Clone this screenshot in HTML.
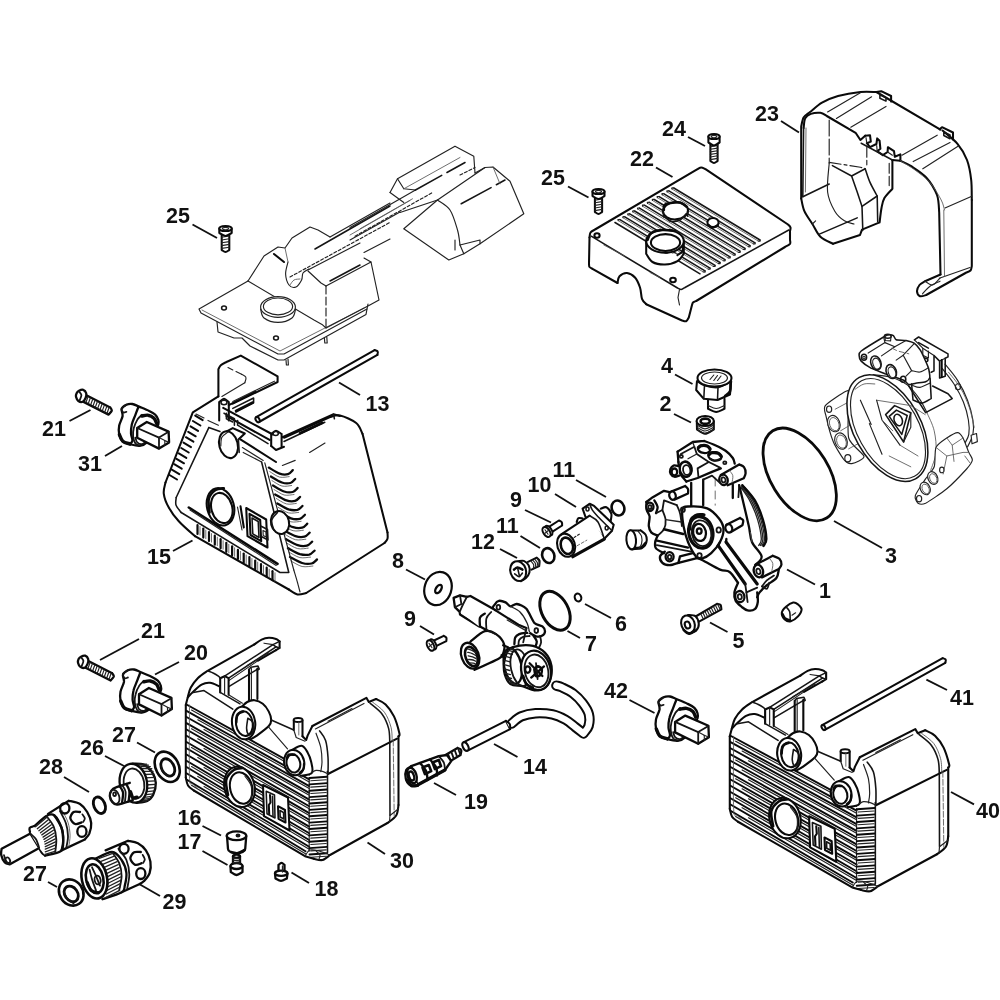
<!DOCTYPE html>
<html><head><meta charset="utf-8">
<style>
html,body{margin:0;padding:0;background:#fff;}
body{width:1000px;height:1000px;overflow:hidden;font-family:"Liberation Sans",sans-serif;}
svg{display:block;filter:blur(0.35px)}
.k{fill:none;stroke:#0a0a0a;stroke-width:2.05;stroke-linecap:round;stroke-linejoin:round}
.m{fill:none;stroke:#151515;stroke-width:1.55;stroke-linecap:round;stroke-linejoin:round}
.t{fill:none;stroke:#222;stroke-width:1.15;stroke-linecap:round;stroke-linejoin:round}
.g{fill:none;stroke:#222;stroke-width:1.15;stroke-linecap:round;stroke-linejoin:round}
.h{fill:none;stroke:#555;stroke-width:0.85;stroke-linecap:round;stroke-linejoin:round}
#pump1 .k,#feet .k,#conn .k,#valve .k{stroke-width:2.3}
#pump1 .m,#feet .m,#conn .m,#valve .m{stroke-width:1.8}
#pump1 .t,#conn .t,#valve .t{stroke-width:1.3}
.w{fill:#fff}
.b{fill:#111;stroke:none}
.ld{stroke:#111;stroke-width:1.9;stroke-linecap:butt;fill:none}
text{font-family:"Liberation Sans",sans-serif;font-weight:bold;font-size:21.5px;fill:#111}
</style></head><body>
<svg width="1000" height="1000" viewBox="0 0 1000 1000">
<rect width="1000" height="1000" fill="#fff"/>
<g id="ghost">
<path class="g" d="M248 281 L199 309 L201 313 L278 354 L284 354 L367 309 L368 304"/>
<path class="g" d="M217 322 L218 332 L234 338 L242 338 L250 346 L278 360 L284 360 L366 314.4 L367 309"/>
<path class="g" d="M286 360 L286.4 365 L288.4 365 L288 359"/>
<path class="g" d="M324.4 338 L324.8 343 L327.2 343 L326.8 337"/>
<path class="h" d="M202 310 L280 351 L364 308"/>
<path class="g" d="M248 281 L264 256 L278 247 L285 248 L292 238 L310 227 L318 230 L330 237"/>
<path class="g" d="M248 281 L314 320 L322 324.4 L326 328"/>
<path class="g" d="M326 286 L326 328" stroke-dasharray="8 3"/>
<path class="g" d="M326 328 L368 306 L379 300 L371 262 L326 286"/>
<path class="g" d="M371 262 L364 258"/>
<path class="g" d="M326 286 L321 283 L308 271"/>
<path class="g" d="M288 262 C287.6 264 285.4 270.2 285.6 274 C285.8 277.8 287.3 282.8 289 285 C290.7 287.2 293.9 287.8 296 287 C298.1 286.2 300.4 282.3 301.6 280 C302.8 277.7 301.8 274.8 303 273 C304.2 271.2 308 269.7 309 269"/>
<path class="h" d="M290 285 C290.7 284.2 292.3 281 294 280 C295.7 279 299 279.2 300 279"/>
<path class="k" d="M274 254 L284 262"/>
<path class="h" d="M285 248 L288 262"/>
<path class="m" d="M315 249 L390 206"/>
<path class="g" d="M330 237 L390 203"/>
<path class="g" d="M290 277 L390 222.4" stroke-dasharray="3 2"/>
<path class="g" d="M308 270 L360 243"/>
<path class="g" d="M364 252.4 L390 239"/>
<path class="m" d="M330 281 L360 265"/>
<ellipse class="g w" cx="278" cy="307" rx="17.4" ry="10.4"/>
<ellipse class="g" cx="278" cy="306.4" rx="14.6" ry="8.4"/>
<path class="g" d="M260.6 309 C261.2 310.5 261.1 315.8 264 318 C266.9 320.2 273.3 322.4 278 322.4 C282.7 322.4 289.1 320.2 292 318 C294.9 315.8 295 310.5 295.6 309"/>
<ellipse class="m" cx="224" cy="308" rx="2.4" ry="2"/>
<ellipse class="m" cx="276" cy="338" rx="2.4" ry="2"/>
<path class="g" d="M350 227.5 L415.5 190"/>
<path class="g" d="M350 240 L400 212"/>
<path class="h" d="M360 228.8 L412.5 198.8"/>
<path class="h" d="M350 235 L410 200.5"/>
<path class="g" d="M355 236.2 L432.5 192.5" stroke-dasharray="3 2"/>
<path class="g" d="M400 212.5 L437.5 200"/>
<path class="g" d="M390 192.5 L397.5 178.8 L455 146.2 L473.8 156.2 L475 173"/>
<path class="g" d="M397.5 178.8 L403.8 188.8 L415.5 190"/>
<path class="h" d="M403.8 188.8 L460 157.5"/>
<path class="g" d="M390 192.5 L403.8 202.5"/>
<path class="m" d="M415.5 190 L465 162.5" stroke-dasharray="30 6"/>
<path class="g" d="M475 173 L485 167.5"/>
<path class="g" d="M460 175 L475 167.5" stroke-dasharray="3 2"/>
<path class="g" d="M403.8 228.8 L437.5 200 L485 167.5 L493 167 L510 181.2 L523.8 213.8 L480 243.8 L463.8 253.8 L448.8 260 L403.8 228.8"/>
<path class="g" d="M437.5 200 C439.6 201.7 446.7 205 450 210 C453.3 215 455.8 224.2 457.5 230 C459.2 235.8 459.6 242.5 460 245"/>
<path class="g" d="M460 245 L463.8 253.8"/>
<path class="g" d="M460 245 L480 240 L480 243.8"/>
<path class="g" d="M455 240 L455 250"/>
<path class="m" d="M461.2 203.8 L505 180" stroke-dasharray="34 6"/>
<path class="h" d="M493 167 L500 183.8"/>
</g>
<g id="p15">
<path class="w" d="M192.8 412.4 L218.4 396.4 L218.4 369.2 L223.2 363.6 L240.8 355.6 L277.6 376.4 L277.6 382 L244 399.6 L272.8 432.4 L282.4 437.2 L330 417 L338.8 415.5 L355 422.5 L362.5 432.5 L387.5 533.8 L385 542.5 L305 593.8 L290 590 L195 536.2 L177.5 520 L167.5 502.5 L165 485Z"/>
<path class="k" d="M218.4 396.4 L192.8 412.4 L165.5 482.5"/>
<path class="k" d="M165.5 482.5 C165.2 484.4 163.2 489.6 163.8 493.8 C164.3 497.9 166.2 502.9 168.8 507.5 C171.2 512.1 174.4 516.5 178.8 521.2 C183.1 526 192.3 533.8 195 536.2"/>
<path class="k" d="M195 536.2 L288.8 589.5"/>
<path class="k" d="M288.8 589.5 C290.2 590.3 294.6 593.9 297.5 594.5 C300.4 595.1 304.8 593.2 306.2 593"/>
<path class="k" d="M306.2 593 L384.5 543"/>
<path class="k" d="M384.5 543 C385 542.3 387 540.5 387.5 538.8 C388 537 387.5 533.5 387.5 532.5"/>
<path class="k" d="M387.5 532.5 L362.5 433.8"/>
<path class="k" d="M362.5 433.8 C361.5 432 360 426 356.2 423 C352.5 420 344.4 416.5 340 415.5 C335.6 414.5 331.7 416.8 330 417"/>
<path class="k" d="M330 417 L284 437.7"/>
<path class="k" d="M218.4 396.4 L218.4 369.2 M218.4 369.2 C218.8 368.5 219.5 366.4 220.8 365.2 C222.1 364 225.5 362.5 226.4 362 M226.4 362 L240.8 355.6 L277.6 376.4 L277.6 382 L232.8 403.6"/>
<path class="t" d="M274.4 381.2 L232.8 401.5"/>
<path class="t" d="M236 371.6 L241.6 374.3"/>
<path class="t" d="M241.6 374.3 C242.3 374.8 245.4 375.8 245.9 377.2 C246.5 378.6 245 381.9 244.8 382.8"/>
<path class="t" d="M244.8 382.8 L221.9 396.4"/>
<path class="t" d="M228 367.6 L232.8 370"/>
<path class="t" d="M196 414 L204 418"/>
<path class="t" d="M208 420.4 L218.4 425.2"/>
<path class="m" d="M208.8 427.6 L220 431.6"/>
<path class="k w" d="M219.2 420.4 L219.2 402 M219.2 402 C220 401.5 222.4 398.8 224 398.8 C225.6 398.8 228 401.5 228.8 402 M228.8 402 L228.8 420.4"/>
<ellipse class="m" cx="224" cy="402.5" rx="3" ry="2.2"/>
<path class="k" d="M223.2 407.9 L272.8 434.5"/>
<path class="k" d="M226.4 415.9 L269.6 439.9"/>
<path class="m" d="M224 413.2 L234.4 418.8 L234.4 425.2"/>
<path class="m" d="M226.4 413.2 L226.4 418.8 L232.8 422"/>
<path class="m" d="M237.6 420.4 L237.6 425.2 L268 443.6"/>
<path class="k" d="M228.8 405.2 L255.2 391.9"/>
<path class="m" d="M232.8 408.4 L253.6 398 L253.6 402.8 L236 412.1"/>
<path class="k" d="M236 410.8 L252.8 402.5" style="stroke-width:2.6"/>
<path class="k w" d="M271.2 446 L271.2 434 M271.2 434 C272 433.5 274.3 430.8 276 430.8 C277.7 430.8 280.7 433.5 281.6 434 M281.6 434 L281.6 446.8"/>
<ellipse class="m" cx="275.7" cy="433.5" rx="2.6" ry="2"/>
<path class="k" d="M282.4 437.2 L333.6 414.3 L340 415.9"/>
<path class="m" d="M284 441.5 L324.8 422.3"/>
<path class="k" d="M300 433.2 L322.4 422.8" style="stroke-width:2.6"/>
<path class="m" d="M333.6 414.3 L334.4 418.8"/>
<path class="k" d="M271.2 446 L276 450 L284 446.8"/>
<path class="t" d="M309.6 452.4 L325 443"/>
<path class="t" d="M282.4 465.5 L295.2 460.4"/>
<path class="k" d="M240.8 439.6 L276 462"/>
<path class="t" d="M242.4 447.6 L263.2 460.4"/>
<path class="m" d="M208.8 427.6 L176.2 497.5"/>
<path class="m" d="M176.2 497.5 C176.2 498.8 175.2 502.5 176 505 C176.8 507.5 180.4 511.2 181.2 512.5"/>
<path class="m" d="M181.2 512.5 L280 572.5 L288.8 572.5 L261.6 462"/>
<path class="t" d="M261.6 462 L243.2 452.4"/>
<path class="k" d="M195.2 415.6 L202.7 420.1" style="stroke-width:2"/>
<path class="k" d="M192.9 421 L200.4 425.5" style="stroke-width:2"/>
<path class="k" d="M190.5 426.4 L198 430.9" style="stroke-width:2"/>
<path class="k" d="M188.2 431.8 L195.7 436.3" style="stroke-width:2"/>
<path class="k" d="M185.9 437.2 L193.4 441.7" style="stroke-width:2"/>
<path class="k" d="M183.5 442.6 L191 447.1" style="stroke-width:2"/>
<path class="k" d="M181.2 448 L188.7 452.5" style="stroke-width:2"/>
<path class="k" d="M178.8 453.4 L186.3 457.9" style="stroke-width:2"/>
<path class="k" d="M176.5 458.8 L184 463.3" style="stroke-width:2"/>
<path class="k" d="M174.2 464.2 L181.7 468.7" style="stroke-width:2"/>
<path class="k" d="M171.8 469.6 L179.3 474.1" style="stroke-width:2"/>
<path class="k" d="M169.5 475 L177 479.5" style="stroke-width:2"/>
<path class="k" d="M197.5 525 L197.5 534" style="stroke-width:2.2"/>
<path class="h" d="M200 526.5 L200 535"/>
<path class="k" d="M203.3 528.6 L203.3 537.6" style="stroke-width:2.2"/>
<path class="h" d="M205.8 530.1 L205.8 538.6"/>
<path class="k" d="M209 532.1 L209 541.1" style="stroke-width:2.2"/>
<path class="h" d="M211.5 533.6 L211.5 542.1"/>
<path class="k" d="M214.8 535.7 L214.8 544.7" style="stroke-width:2.2"/>
<path class="h" d="M217.3 537.2 L217.3 545.7"/>
<path class="k" d="M220.6 539.2 L220.6 548.2" style="stroke-width:2.2"/>
<path class="h" d="M223.1 540.7 L223.1 549.2"/>
<path class="k" d="M226.3 542.8 L226.3 551.8" style="stroke-width:2.2"/>
<path class="h" d="M228.8 544.3 L228.8 552.8"/>
<path class="k" d="M232.1 546.3 L232.1 555.3" style="stroke-width:2.2"/>
<path class="h" d="M234.6 547.8 L234.6 556.3"/>
<path class="k" d="M237.9 549.9 L237.9 558.9" style="stroke-width:2.2"/>
<path class="h" d="M240.4 551.4 L240.4 559.9"/>
<path class="k" d="M243.7 553.5 L243.7 562.5" style="stroke-width:2.2"/>
<path class="h" d="M246.2 555 L246.2 563.5"/>
<path class="k" d="M249.4 557 L249.4 566" style="stroke-width:2.2"/>
<path class="h" d="M251.9 558.5 L251.9 567"/>
<path class="k" d="M255.2 560.6 L255.2 569.6" style="stroke-width:2.2"/>
<path class="h" d="M257.7 562.1 L257.7 570.6"/>
<path class="k" d="M261 564.1 L261 573.1" style="stroke-width:2.2"/>
<path class="h" d="M263.5 565.6 L263.5 574.1"/>
<path class="k" d="M266.7 567.7 L266.7 576.7" style="stroke-width:2.2"/>
<path class="h" d="M269.2 569.2 L269.2 577.7"/>
<path class="k" d="M272.5 571.2 L272.5 580.2" style="stroke-width:2.2"/>
<path class="h" d="M275 572.8 L275 581.2"/>
<path class="k" d="M188.8 507.5 L277.5 563.8" style="stroke-width:2.6"/>
<path class="t" d="M190 510 L276.2 565.5"/>
<path class="k" d="M268.8 467.6 C270.6 468.6 276.4 472.5 279.6 473.6 C282.8 474.7 285.8 474.7 288 474.1 C290.2 473.5 292 470.8 292.8 470.1" style="stroke-width:2.3"/>
<path class="h" d="M269.8 471.6 C271.4 472.5 276.4 476.3 279.6 477.1 C282.8 477.9 287.6 476.7 289.2 476.6"/>
<path class="k" d="M270.9 476.5 C272.7 477.5 278.6 481.5 281.9 482.5 C285.1 483.6 288.1 483.6 290.4 483 C292.6 482.5 294.4 479.7 295.2 479" style="stroke-width:2.3"/>
<path class="h" d="M271.9 480.5 C273.6 481.5 278.6 485.2 281.9 486 C285.1 486.9 290 485.6 291.6 485.5"/>
<path class="k" d="M273 485.5 C274.9 486.5 280.8 490.4 284.1 491.5 C287.4 492.6 290.5 492.6 292.7 492 C295 491.4 296.8 488.6 297.6 488" style="stroke-width:2.3"/>
<path class="h" d="M274 489.5 C275.7 490.4 280.8 494.1 284.1 495 C287.4 495.8 292.3 494.6 294 494.5"/>
<path class="k" d="M275.2 494.4 C277 495.4 283 499.3 286.4 500.4 C289.7 501.5 292.8 501.5 295.1 500.9 C297.4 500.3 299.2 497.6 300.1 496.9" style="stroke-width:2.3"/>
<path class="h" d="M276.2 498.4 C277.9 499.3 283 503.1 286.4 503.9 C289.7 504.8 294.7 503.5 296.3 503.4"/>
<path class="k" d="M277.3 503.4 C279.2 504.4 285.3 508.3 288.6 509.4 C292 510.4 295.1 510.4 297.4 509.9 C299.8 509.3 301.6 506.5 302.5 505.9" style="stroke-width:2.3"/>
<path class="h" d="M278.3 507.4 C280 508.3 285.2 512 288.6 512.9 C292 513.7 297 512.4 298.7 512.4"/>
<path class="k" d="M279.4 512.3 C281.3 513.3 287.5 517.2 290.9 518.3 C294.3 519.4 297.5 519.4 299.8 518.8 C302.1 518.2 304 515.5 304.9 514.8" style="stroke-width:2.3"/>
<path class="h" d="M280.4 516.3 C282.1 517.2 287.4 521 290.9 521.8 C294.3 522.6 299.4 521.4 301.1 521.3"/>
<path class="k" d="M281.5 521.2 C283.5 522.2 289.7 526.2 293.1 527.2 C296.6 528.3 299.8 528.3 302.2 527.7 C304.5 527.2 306.5 524.4 307.3 523.7" style="stroke-width:2.3"/>
<path class="h" d="M282.5 525.2 C284.3 526.2 289.6 529.9 293.1 530.7 C296.6 531.6 301.7 530.3 303.4 530.2"/>
<path class="k" d="M283.6 530.2 C285.6 531.2 291.9 535.1 295.4 536.2 C298.9 537.3 302.1 537.3 304.5 536.7 C306.9 536.1 308.9 533.3 309.7 532.7" style="stroke-width:2.3"/>
<path class="h" d="M284.6 534.2 C286.4 535.1 291.9 538.8 295.4 539.7 C298.9 540.5 304.1 539.3 305.8 539.2"/>
<path class="k" d="M285.8 539.1 C287.7 540.1 294.1 544 297.6 545.1 C301.2 546.2 304.5 546.2 306.9 545.6 C309.3 545 311.3 542.3 312.2 541.6" style="stroke-width:2.3"/>
<path class="h" d="M286.8 543.1 C288.6 544 294.1 547.8 297.6 548.6 C301.2 549.5 306.4 548.2 308.2 548.1"/>
<path class="k" d="M287.9 548.1 C289.9 549.1 296.3 553 299.9 554.1 C303.5 555.1 306.8 555.1 309.2 554.6 C311.7 554 313.7 551.2 314.6 550.6" style="stroke-width:2.3"/>
<path class="h" d="M288.9 552.1 C290.7 553 296.3 556.7 299.9 557.6 C303.5 558.4 308.8 557.1 310.6 557.1"/>
<path class="k" d="M290 557 C292 558 298.5 561.9 302.1 563 C305.8 564.1 309.1 564.1 311.6 563.5 C314.1 562.9 316.1 560.2 317 559.5" style="stroke-width:2.3"/>
<path class="h" d="M291 561 C292.9 561.9 298.5 565.7 302.1 566.5 C305.8 567.3 311.1 566.1 312.9 566"/>
<path class="t" d="M264.8 462.8 L293.8 570"/>
<path class="t" d="M293.8 570 C294.4 572.1 296.5 578.8 297.5 582.5 C298.5 586.2 299.6 590.4 300 592"/>
<path class="k w" d="M224.8 432.4 L232.8 428.1 L244.8 433.5 L238.4 439.6"/>
<ellipse class="k w" cx="228.5" cy="444.7" rx="9.2" ry="13.6" transform="rotate(-14 228.5 444.7)"/>
<path class="t" d="M220.8 446 C221 444.5 220.7 439.5 221.9 437.2 C223.1 434.9 227 432.8 228 431.9"/>
<path class="m" d="M238.4 439.6 L239.2 452.4"/>
<ellipse class="k w" cx="220.5" cy="506.8" rx="13.4" ry="19" transform="rotate(-15 220.5 506.8)"/>
<ellipse class="k" cx="221.8" cy="508" rx="10.4" ry="15.4" transform="rotate(-15 221.8 508)"/>
<path class="k" d="M209.5 512.5 C209.4 510.2 207.8 502.5 208.8 498.8 C209.8 495 213 491.8 215.5 490 C218 488.2 222.4 488.5 223.8 488.2" style="stroke-width:2.6"/>
<ellipse class="k w" cx="280" cy="522.5" rx="9" ry="11.6" transform="rotate(-14 280 522.5)"/>
<path class="m" d="M273.8 530 C273.4 528.3 271.1 522.9 271.8 520 C272.4 517.1 276.5 513.8 277.5 512.5"/>
<path class="k w" d="M246.2 508 L247.5 536.2 L267.5 547.5 L266.2 519.5Z"/>
<path class="k" d="M249.5 513.8 L250.5 535 L261.2 541.2 L260.2 520Z"/>
<path class="m" d="M252 518 L252.8 533.8 L259 537.5 L258.2 521.5Z"/>
<path class="m" d="M261.2 526.2 L267.5 529.5 L268 540 L261.8 536.8"/>
<path class="t" d="M263 530.5 L263.2 535.5 L266.2 537 L266 532Z"/>
<path class="k" d="M240.5 506.2 L243.8 527.5"/>
<path class="t" d="M237.5 507 L242 530"/>
</g>
<g id="rod13">
<path class="k" d="M259 422 L377.4 354.9"/>
<path class="k" d="M256.2 417.2 L374.6 350.1"/>
<ellipse class="k w" cx="257.6" cy="419.6" rx="1.8" ry="2.9" transform="rotate(-29.5 257.6 419.6)"/>
<path class="k" d="M377.4 354.9 C377.4 354.4 378.2 352.3 377.7 351.5 C377.3 350.7 375.1 350.3 374.6 350.1"/>
</g>
<g id="p22">
<path class="w" d="M589.5 236.2 L593.8 230 L698.8 168.8 L703.8 168 L788.8 225 L790 230 L790 242.5 L785 247 L695 302 L692 305 L688 318.8 L682.5 320.5 L646.2 304.2 L642.5 300 L640 287.5 L635 277.5 L627.5 273.8 L620 277 L617.5 283 L590 267 L589 263.8Z"/>
<path class="k" d="M589.5 237.5 C589.7 236.7 589.6 233.8 590.5 232.5 C591.4 231.2 594.2 230 595 229.5 M595 229.5 L697.5 169.2 M697.5 169.2 C698.1 169 699.9 167.5 701.2 167.5 C702.6 167.5 704.8 169 705.5 169.2 M705.5 169.2 L788 224.5 M788 224.5 C788.4 225 790.2 226.4 790.5 227.5 C790.8 228.6 790.1 230.6 790 231.2"/>
<path class="k" d="M589.5 237.5 L589 263.8 M589 263.8 C589.1 264.3 588.9 266.2 589.5 267 C590.1 267.8 592 268.5 592.5 268.8 M592.5 268.8 L617.5 283"/>
<path class="k" d="M617.5 283 C617.8 281.9 617.9 277.9 619.5 276.2 C621.1 274.6 624.4 272.8 627 273 C629.6 273.2 632.8 275.1 635 277.5 C637.2 279.9 638.8 284 640 287.5 C641.2 291 641 296 642 298.8 C643 301.5 645.5 303.3 646.2 304.2"/>
<path class="k" d="M646.2 304.2 L682 320.5 M682 320.5 C682.7 320.6 685.1 321.8 686.2 321.2 C687.4 320.8 688.3 318.1 688.8 317.5 M688.8 317.5 L692 305 M692 305 C692.2 304.6 692.3 303.2 693 302.5 C693.7 301.8 695.7 301.2 696.2 301 M696.2 301 L785 247 M785 247 C785.8 246.5 789.2 244.9 790 243.8 C790.8 242.6 790 240.6 790 240 M790 240 L790 231.2"/>
<path class="m" d="M591.2 236.2 L677.5 288 M677.5 288 C678.1 288.2 680 289.6 681.2 289.5 C682.5 289.4 684.4 287.8 685 287.5 M685 287.5 L788.8 230"/>
<path class="t" d="M679.5 289.5 L678 297.5 L679.5 305"/>
<path class="h" d="M603.8 245 L625 256.2"/>
<path class="h" d="M650 272.5 L660 277.5"/>
<path class="m" d="M673.8 188 L760 240"/>
<path class="h" d="M672 189 L758.2 241"/>
<path class="t" d="M673.8 188 C673.4 188 672.1 187.7 671.8 187.9 C671.5 188.1 672 188.8 672 189"/>
<path class="t" d="M760 240 C760 240.2 760.4 241 760.1 241.1 C759.8 241.3 758.6 241 758.2 241"/>
<path class="m" d="M668.9 190.9 L755 242.8"/>
<path class="h" d="M667.1 191.9 L753.2 243.8"/>
<path class="t" d="M668.9 190.9 C668.5 190.9 667.2 190.6 666.9 190.8 C666.7 190.9 667.1 191.7 667.1 191.9"/>
<path class="t" d="M755 242.8 C755 243 755.4 243.8 755.1 243.9 C754.8 244.1 753.6 243.8 753.2 243.8"/>
<path class="m" d="M664 193.8 L750 245.6"/>
<path class="h" d="M662.2 194.8 L748.2 246.6"/>
<path class="t" d="M664 193.8 C663.6 193.7 662.3 193.5 662 193.6 C661.8 193.8 662.2 194.6 662.2 194.8"/>
<path class="t" d="M750 245.6 C750 245.8 750.4 246.6 750.1 246.8 C749.8 246.9 748.6 246.6 748.2 246.6"/>
<path class="m" d="M659.1 196.6 L745 248.4"/>
<path class="h" d="M657.3 197.6 L743.2 249.4"/>
<path class="t" d="M659.1 196.6 C658.7 196.6 657.4 196.4 657.2 196.5 C656.9 196.7 657.3 197.4 657.3 197.6"/>
<path class="t" d="M745 248.4 C745 248.6 745.4 249.4 745.1 249.6 C744.8 249.7 743.6 249.4 743.2 249.4"/>
<path class="m" d="M654.2 199.5 L740 251.2"/>
<path class="h" d="M652.5 200.5 L738.2 252.2"/>
<path class="t" d="M654.2 199.5 C653.8 199.5 652.5 199.2 652.3 199.4 C652 199.6 652.4 200.3 652.5 200.5"/>
<path class="t" d="M740 251.2 C740 251.4 740.4 252.2 740.1 252.4 C739.8 252.5 738.6 252.3 738.2 252.2"/>
<path class="m" d="M649.3 202.4 L735 254.1"/>
<path class="h" d="M647.6 203.4 L733.2 255"/>
<path class="t" d="M649.3 202.4 C649 202.4 647.6 202.1 647.4 202.3 C647.1 202.4 647.5 203.2 647.6 203.4"/>
<path class="t" d="M735 254.1 C735 254.3 735.4 255 735.1 255.2 C734.8 255.4 733.6 255.1 733.2 255"/>
<path class="m" d="M644.4 205.2 L730 256.9"/>
<path class="h" d="M642.7 206.3 L728.2 257.9"/>
<path class="t" d="M644.4 205.2 C644.1 205.2 642.8 205 642.5 205.1 C642.2 205.3 642.6 206.1 642.7 206.3"/>
<path class="t" d="M730 256.9 C730 257.1 730.4 257.8 730.1 258 C729.8 258.2 728.6 257.9 728.2 257.9"/>
<path class="m" d="M639.5 208.1 L725 259.7"/>
<path class="h" d="M637.8 209.1 L723.2 260.7"/>
<path class="t" d="M639.5 208.1 C639.2 208.1 637.9 207.9 637.6 208 C637.3 208.2 637.7 208.9 637.8 209.1"/>
<path class="t" d="M725 259.7 C725 259.9 725.4 260.6 725.1 260.8 C724.8 261 723.6 260.7 723.2 260.7"/>
<path class="m" d="M634.6 211 L720 262.5"/>
<path class="h" d="M632.9 212 L718.2 263.5"/>
<path class="t" d="M634.6 211 C634.3 211 633 210.7 632.7 210.9 C632.4 211.1 632.8 211.8 632.9 212"/>
<path class="t" d="M720 262.5 C720 262.7 720.4 263.5 720.1 263.6 C719.8 263.8 718.6 263.5 718.2 263.5"/>
<path class="m" d="M629.7 213.9 L715 265.3"/>
<path class="h" d="M628 214.9 L713.2 266.3"/>
<path class="t" d="M629.7 213.9 C629.4 213.9 628.1 213.6 627.8 213.8 C627.5 213.9 627.9 214.7 628 214.9"/>
<path class="t" d="M715 265.3 C715 265.5 715.4 266.3 715.1 266.4 C714.8 266.6 713.6 266.3 713.2 266.3"/>
<path class="m" d="M624.8 216.8 L710 268.1"/>
<path class="h" d="M623.1 217.8 L708.2 269.1"/>
<path class="t" d="M624.8 216.8 C624.5 216.7 623.2 216.5 622.9 216.7 C622.6 216.8 623 217.6 623.1 217.8"/>
<path class="t" d="M710 268.1 C710 268.3 710.4 269.1 710.1 269.2 C709.8 269.4 708.6 269.1 708.2 269.1"/>
<path class="m" d="M619.9 219.6 L705 270.9"/>
<path class="h" d="M618.2 220.6 L703.2 271.9"/>
<path class="t" d="M619.9 219.6 C619.6 219.6 618.3 219.4 618 219.5 C617.7 219.7 618.2 220.4 618.2 220.6"/>
<path class="t" d="M705 270.9 C705 271.1 705.4 271.9 705.1 272.1 C704.8 272.2 703.6 271.9 703.2 271.9"/>
<path class="m" d="M615 222.5 L700 273.8"/>
<ellipse class="k w" cx="675.5" cy="210.8" rx="12.5" ry="8.6" transform="rotate(-3 675.5 210.8)"/>
<path class="m" d="M665 216.2 C665.8 217.1 667.5 220.6 670 221.2 C672.5 221.9 677.3 221.2 680 220 C682.7 218.8 685.2 214.8 686.2 213.8"/>
<path class="k" d="M663.8 210 C663.9 209.2 663.5 206.2 664.5 205 C665.5 203.8 667.4 203.4 670 203 C672.6 202.6 677.2 201.8 680 202.5 C682.8 203.2 685.8 206.2 687 207" style="stroke-width:2.6"/>
<path class="m" d="M663 211.2 L663.8 217"/>
<path class="m" d="M688 211.2 L687.5 216.2"/>
<path class="k w" d="M646.2 241.2 L646.2 253.8 M646.2 253.8 C647.3 255.1 649.4 260.2 652.5 262 C655.6 263.8 660.8 264.6 665 264.5 C669.2 264.4 674.4 263 677.5 261.2 C680.6 259.5 682.7 255 683.8 253.8 M683.8 253.8 L683.8 242"/>
<ellipse class="k w" cx="665" cy="241.2" rx="18.8" ry="11.4"/>
<ellipse class="k" cx="665.5" cy="242.5" rx="14.6" ry="8.4"/>
<path class="k" d="M647.5 240 C648.1 238.8 648.8 234.7 651.2 233 C653.8 231.3 658.5 230.3 662.5 230 C666.5 229.7 672.9 230.8 675 231" style="stroke-width:2.6"/>
<path class="k" d="M677.5 255 C678.3 254.4 681.6 252.9 682.5 251.2 C683.4 249.6 682.9 246 683 245" style="stroke-width:2.2"/>
<ellipse class="k w" cx="713" cy="222.5" rx="5.6" ry="4.6"/>
<path class="k" d="M708.8 225 C709.4 225.5 711 228 712.5 228 C714 228 717.1 225.5 718 225" style="stroke-width:2.2"/>
<ellipse class="k" cx="597" cy="235.5" rx="2.6" ry="2.2"/>
<ellipse class="k" cx="673" cy="280" rx="2.8" ry="2.3"/>
</g>
<g id="p23">
<path class="k" d="M801.2 198.4 L801.2 126.4 M801.2 126.4 C801.6 125.1 802.3 119.8 803.6 117.6 C804.9 115.4 807.2 114.2 810 112 C812.8 109.8 817.8 105.1 822 102.7 C826.2 100.3 832.2 97.6 838 96 C843.8 94.4 854.6 92.6 860.4 92 C866.2 91.4 874 92 876.4 92"/>
<path class="k" d="M876.4 92 L940.4 129.6"/>
<path class="k" d="M942.5 130.5 C944.5 132.3 954.2 139.8 957.5 143.8 C960.8 147.7 965.2 155.2 967 160 C968.8 164.8 970.6 174.7 971.2 180 C971.9 185.3 971.7 197.3 971.8 200"/>
<path class="k" d="M971.8 200 L971.8 266.2 M971.8 266.2 C971.5 267 971.5 269.4 970.5 270.5 C969.5 271.6 966.3 272.6 965.5 273 M965.5 273 L926.2 295 M926.2 295 C925.2 295.2 921.5 296.9 920 296.2 C918.5 295.6 917.1 293.1 917 291.2 C916.9 289.4 918.2 286.7 919.5 285 C920.8 283.3 924.1 281.9 925 281.2 M925 281.2 L940.5 274.5"/>
<path class="k" d="M940.5 274.5 L939.2 212.5 M939.2 212.5 C938.9 209.9 939 200.2 937 195 C935 189.8 930.1 181.8 926.2 177.5 C922.4 173.2 915.1 168.8 911.2 166.2 C907.4 163.7 902 161.6 900.4 160.8"/>
<path class="k" d="M801.2 198.4 C801.7 200.5 802.5 206.9 804.4 211.2 C806.3 215.5 809.7 219.7 812.4 224 C815.1 228.3 817 233.5 820.4 236.8 C823.8 240.1 830.9 242.6 833 243.8"/>
<path class="k" d="M833 243.8 L860 235 L862 229.6 L879.6 222.4 M879.6 222.4 C879.9 220 880.7 212.1 881.5 208 C882.3 203.9 882.6 201.3 884.4 198.1 C886.2 194.9 891.1 190.3 892.4 188.8 M892.4 188.8 L892.4 160"/>
<path class="k" d="M803.6 128 C803.9 126.4 804 120.7 805.2 118.4 C806.4 116.1 808.3 114.9 810.8 113.9 C813.3 113 817.7 112.5 820.4 112.8 C823.1 113.1 825.7 115.5 826.8 116 M826.8 116 L855.6 132.8 L860.4 140 L865.2 135.7"/>
<path class="m" d="M803.6 128 L802.8 196.8"/>
<path class="m" d="M802.8 196.8 L829.2 184"/>
<path class="h" d="M806 128 L805.4 192"/>
<path class="k" d="M865.2 135.7 L870 135.2 L870.8 141.6 L866.8 143.2 L870 147.2 L876.4 144 L877.2 138.4 L879.6 140.8 L880.4 148.8 L877.2 151.2 L882.8 155.2 L887.6 152 L887.9 147.2 L894 151.2 L894.8 156.8 L900.4 154.4 L900.4 160.8 L892.4 160"/>
<path class="m" d="M861.2 143.2 L892.4 160"/>
<path class="t" d="M866.8 143.2 L866 137.6"/>
<path class="t" d="M877.2 151.2 L876.7 145.6"/>
<path class="t" d="M887.6 152 L892.4 155.2"/>
<path class="t" d="M829.2 120 L829.2 163.2" stroke-dasharray="16 3"/>
<path class="t" d="M866.8 147.2 L866.8 164.8" stroke-dasharray="10 3"/>
<path class="t" d="M889.2 163.2 L889.2 185.6" stroke-dasharray="10 3"/>
<path class="t" d="M829.2 162.4 L860.4 167.2 L865.2 168.5" stroke-dasharray="12 3 3 3"/>
<path class="m" d="M832.4 165.6 L851.6 176 L857.2 192 L862 206.4 L862.8 230.4"/>
<path class="m" d="M851.6 176 L865.2 168.8 M865.2 168.8 C866 171.1 868 177.9 870 182.4 C872 186.9 876 193.7 877.2 196 M877.2 196 L877.7 221.6"/>
<path class="m" d="M862 206.4 L877.2 196"/>
<path class="t" d="M829.2 163.2 C828.9 168 826.7 184 827.6 192 C828.5 200 832 206.4 834.8 211.2 C837.6 216 841.2 218.7 844.4 220.8 C847.6 222.9 852.4 223.5 854 224"/>
<path class="m" d="M818.8 234.4 L857.2 217.9"/>
<path class="t" d="M812.4 224 L815.6 220.8"/>
<path class="t" d="M827.6 112 L860.4 92.8"/>
<path class="t" d="M836.4 118.4 L871.6 96.8"/>
<path class="t" d="M850.8 127.2 L886 106.4"/>
<path class="t" d="M902 155.2 L937.2 135.2"/>
<path class="t" d="M913.2 161.6 L950 142.4"/>
<path class="t" d="M922.8 168.8 L958 146.2"/>
<path class="k" d="M876.4 92 L881.2 91.2 L891.1 96 L891.1 101.6"/>
<path class="m" d="M879.9 94.7 L886 97.6 L886 101.1 L879.9 98.2Z"/>
<path class="k" d="M939.6 129.3 L942 127.2 L953 132.5 L953 139.5"/>
<path class="m" d="M943.8 132 L950 135 L950 138.8 L943.8 135.5Z"/>
<path class="t" d="M945 208 L971.8 196.2"/>
<path class="t" d="M940 278 L970 267.5"/>
<path class="h" d="M943.8 210 L944.5 276.2"/>
<path class="t" d="M925 281.2 C926.2 281.9 930 285.5 932.5 285 C935 284.5 938.8 279.2 940 278"/>
<path class="t" d="M922.5 293.8 C923.8 292.5 927.1 288.3 930 286.2 C932.9 284.2 938.3 282.1 940 281.2"/>
<path class="h" d="M900.4 160.8 C902.6 162.2 910.6 166.7 915 170 C919.4 173.3 926.1 178 930 182.5 C933.9 187 939.1 195.9 941.2 200 C943.4 204.1 944 208.5 944.5 210"/>
</g>
<g id="housing">
<path class="g" d="M945 364.2 C947.1 366.9 953.9 374.4 957.6 380.4 C961.4 386.4 965 393.6 967.5 400.2 C970 406.8 972 414.3 972.9 420 C973.8 425.7 973.8 429.9 972.9 434.4 C972 438.9 968.4 444.9 967.5 447"/>
<path class="g" d="M942.3 368.7 C944.2 371.2 950.5 378.4 954 384 C957.5 389.6 961 396 963.4 402 C965.8 408 967.5 414.6 968.4 420 C969.3 425.4 969.4 430.5 968.8 434.4 C968.2 438.3 965.5 441.9 964.8 443.4"/>
<path class="h" d="M948.6 372.3 C950.5 374.9 956.8 381.8 960.3 387.6 C963.8 393.5 967 400.8 969.3 407.4 C971.6 414 973.3 423.9 974.2 427.2"/>
<ellipse class="g" cx="958" cy="386.7" rx="2.6" ry="3"/>
<path class="g w" d="M971.1 435.3 L976.5 433.5 L977.4 441.6 L972 443.8Z"/>
<path class="m" d="M914.4 339.8 L918.6 337 L948 353.8 L948 356.9 L945.2 358.3 L945.2 376.2 L939.6 377.9 L939.6 361.1 L934 355.5 L934 370.9 L931.2 372.3"/>
<path class="g" d="M914.4 339.8 L922.8 348.2 L934 355.5"/>
<path class="g" d="M939.6 361.1 L945.2 358.3"/>
<path class="k" d="M941.7 360.1 L941.7 376.9"/>
<path class="g" d="M922.8 348.2 L922.8 355.2 L928.4 358 L928.4 351"/>
<ellipse class="m" cx="924.9" cy="360.1" rx="3" ry="2"/>
<path class="m" d="M918.6 342.6 L928.4 348.2"/>
<path class="g" d="M825.3 405.6 C827.6 402.6 843.3 392.4 846 391.2 C848.7 390 848.4 389.7 848.7 395.2 C849 400.6 846.9 430.9 848.7 438 C850.5 445.1 863.6 453.4 864 456.4 C864.4 459.3 854.1 463.1 851.8 463.6 C849.5 464 846.3 462.5 844.2 460 C842.1 457.4 835.5 447 833.4 442 C831.3 436.9 827.1 421 826.2 416.8 C825.3 412.5 823 408.6 825.3 405.6Z"/>
<ellipse class="g w" cx="833.8" cy="423.6" rx="6" ry="8.4" transform="rotate(-20 833.8 423.6)"/>
<ellipse class="h" cx="834.3" cy="424.1" rx="4.6" ry="6.8" transform="rotate(-20 834.3 424.1)"/>
<ellipse class="g w" cx="841" cy="441.1" rx="6" ry="8.4" transform="rotate(-20 841 441.1)"/>
<ellipse class="h" cx="841.5" cy="441.6" rx="4.6" ry="6.8" transform="rotate(-20 841.5 441.6)"/>
<ellipse class="g" cx="829.1" cy="409.2" rx="2.6" ry="3.2"/>
<ellipse class="g" cx="847.8" cy="458.2" rx="3" ry="3.6"/>
<path class="h" d="M835.2 409.2 L848.7 402"/>
<path class="h" d="M840.6 430.8 L849.6 425.4"/>
<path class="h" d="M848.7 448.8 L858.6 443.4"/>
<path class="g" d="M873 374.6 C876 375.1 885.3 375.5 891 377.2 C896.7 378.9 902.4 381.2 907.2 384.9 C912 388.6 916.5 394.6 919.8 399.3 C923.1 404 925.8 410.6 927 412.8"/>
<path class="m" d="M908.8 386 L925.6 412.6 L952.2 398.6 L948 393.7 L932.6 386"/>
<path class="h" d="M927 412.8 C928.2 415.8 932.7 424.2 934.2 430.8 C935.7 437.4 936.6 445.8 936 452.4 C935.4 459 931.5 467.4 930.6 470.4"/>
<ellipse class="m w" cx="887.4" cy="428.1" rx="58" ry="33.3" transform="rotate(61 887.4 428.1)"/>
<ellipse class="g" cx="888" cy="428.6" rx="54.6" ry="30.4" transform="rotate(61 888 428.6)"/>
<path class="g" d="M860.4 400.2 L871.2 424.5"/>
<path class="g" d="M869.4 423.6 L882 454.2"/>
<path class="h" d="M876.6 400.2 L910.8 405.6 L925.2 414.6"/>
<path class="g" d="M876.6 400.2 L882 420 L900 445.2"/>
<path class="m" d="M885.6 414.6 L894.6 405.6 L910.8 412.8 L903.6 442Z"/>
<path class="m" d="M889.2 416.4 L896.4 410.1 L907.2 415.5 L901.8 434.4Z"/>
<ellipse class="m" cx="898.2" cy="420" rx="4" ry="6" transform="rotate(-20 898.2 420)"/>
<path class="g" d="M903.6 442 L910.8 427.2 L910.8 412.8"/>
<path class="h" d="M882 420 L892.8 430.8"/>
<path class="h" d="M900 445.2 L918 456"/>
<path class="h" d="M889.2 456 L910.8 466.8"/>
<path class="h" d="M855 389.4 C856.5 388.5 860.7 384.9 864 384 C867.3 383.1 873 384 874.8 384"/>
<path class="m w" d="M859.1 355.2 C859.1 354.2 858.8 352.8 861.2 351 C863.7 349.2 880.9 338.6 883.6 337 C886.3 335.4 886.8 335 887.8 334.9 C888.8 334.8 892.6 335.1 893.4 335.6 C894.2 336.1 894.9 339.3 896.2 339.8 C897.5 340.3 904.2 340.1 906 340.5 C907.8 340.9 913 342.4 914.4 343.3 C915.8 344.2 919 348.1 920 349.6 C921 351.1 923.4 356.2 924.2 358 C925 359.8 927.8 365.8 928.4 367.8 C929 369.8 930.1 376.2 929.8 377.6 C929.5 379 927 381.2 925.6 381.8 C924.2 382.4 917.5 382.9 915.8 383.2 C914.1 383.5 909.9 384.9 908.8 384.6 C907.7 384.3 905.9 381.4 904.6 380.7 C903.3 380 898.2 378.3 896.2 377.6 C894.2 376.9 887.5 374.6 885 373.7 C882.5 372.7 873.4 369.3 871 368.1 C868.6 366.8 862.4 362.4 861.2 361.1 C860 359.8 859.1 356.2 859.1 355.2Z"/>
<ellipse class="m w" cx="875.9" cy="362.9" rx="5" ry="7.2" transform="rotate(-20 875.9 362.9)"/>
<ellipse class="g" cx="876.6" cy="363.6" rx="3.6" ry="5.6" transform="rotate(-20 876.6 363.6)"/>
<ellipse class="m w" cx="891.3" cy="371.6" rx="5" ry="7.2" transform="rotate(-20 891.3 371.6)"/>
<ellipse class="g" cx="892" cy="372.3" rx="3.6" ry="5.6" transform="rotate(-20 892 372.3)"/>
<ellipse class="m" cx="864" cy="357.3" rx="2.6" ry="3"/>
<ellipse class="g" cx="864" cy="357.6" rx="1.2" ry="1.4"/>
<ellipse class="m" cx="903.2" cy="379.3" rx="2.6" ry="3"/>
<path class="g" d="M868.2 353.1 L885 342.6 L894.8 346.8 L906 340.5"/>
<path class="g" d="M885 342.6 L883.6 337"/>
<path class="g" d="M894.8 346.8 L881.5 355.9"/>
<path class="g" d="M914.4 343.3 L903.2 355.2 L896.2 360.1"/>
<path class="g" d="M903.2 355.2 L911.6 370.6 L906 376.2"/>
<path class="h" d="M892 348.2 L897.6 351 L908.8 353.8" stroke-dasharray="5 3"/>
<path class="g" d="M911.6 370.6 C913 370.8 917.2 372.5 920 372 C922.8 371.5 927 368.5 928.4 367.8"/>
<ellipse class="m" cx="887.8" cy="336.3" rx="3.4" ry="2"/>
<path class="g" d="M885 337 L885.3 340.5 L890.6 340.9 L890.9 337.3"/>
<path class="m" d="M911.6 383.9 L913 400 M913 400 C914.5 400.5 919.1 403.3 922.1 403.1 C925.1 402.8 929.7 399.3 931.2 398.6 M931.2 398.6 L930.1 378.3"/>
<path class="g" d="M912.3 385.3 C913.6 385.6 917.1 387.8 920 387.4 C922.9 387 928.2 383.9 929.8 383.2"/>
<path class="g w" d="M915.3 495.6 C914.5 498.4 916.8 502.3 918 503.2 C919.2 504 922.2 504.8 925.6 503.2 C928.9 501.5 942 492.8 946.8 488.8 C951.6 484.8 963.6 472.3 966.6 469 C969.6 465.6 972.1 461.9 972.4 460 C972.6 458 969.9 455 968.8 452.4 C967.7 449.8 964.3 440.3 963 438 C961.7 435.7 959.5 432.6 957.6 432.6 C955.7 432.6 949.3 436.3 946.8 438 C944.3 439.7 937.5 444 936 447.4 C934.5 450.7 935.5 463.1 934.2 466.8 C932.9 470.5 927.4 476 925.2 479.4 C923 482.8 916.1 492.8 915.3 495.6Z"/>
<ellipse class="g w" cx="932.8" cy="478" rx="4.8" ry="6.6" transform="rotate(-25 932.8 478)"/>
<ellipse class="h" cx="933.3" cy="478.5" rx="3.4" ry="5" transform="rotate(-25 933.3 478.5)"/>
<ellipse class="g w" cx="925.2" cy="488.4" rx="4.8" ry="6.6" transform="rotate(-25 925.2 488.4)"/>
<ellipse class="h" cx="925.7" cy="488.9" rx="3.4" ry="5" transform="rotate(-25 925.7 488.9)"/>
<ellipse class="g" cx="919.1" cy="498.7" rx="2.6" ry="3.2"/>
<ellipse class="g" cx="941.8" cy="469.9" rx="2.2" ry="2.8"/>
<path class="h" d="M936 447.4 L946.8 456 L963 452.4 L968.8 452.4"/>
<path class="h" d="M946.8 456 L943.2 474"/>
<path class="h" d="M946.8 438 L952.2 445.2 L963 438"/>
<path class="h" d="M952.2 445.2 L954 461.4"/>
<path class="h" d="M964.8 456 L970.2 463.2"/>
</g>
<g id="oring3">
<ellipse class="k" cx="799.7" cy="474.4" rx="51.3" ry="29.2" transform="rotate(58.3 799.7 474.4)" style="stroke-width:2.8"/>
</g>
<g id="pump1">
<path class="m" d="M742.4 485.2 C744.4 487.7 751.1 494.7 754.4 500.4 C757.7 506.1 760.5 513.2 762.4 519.6 C764.3 526 765.9 534.5 766.1 538.8 C766.3 543.1 763.9 544.4 763.5 545.5"/>
<path class="t" d="M741.9 486 C743.7 488.4 749.7 494.8 752.8 500.4 C755.9 506 758.9 513.2 760.8 519.6 C762.7 526 764.3 534.5 764.5 538.8 C764.7 543.1 762.3 544.4 761.9 545.5"/>
<path class="t" d="M741.4 486.8 C743.1 489.1 748.2 494.9 751.2 500.4 C754.2 505.9 757.3 513.2 759.2 519.6 C761.1 526 762.7 534.5 762.9 538.8 C763.1 543.1 760.7 544.4 760.3 545.5"/>
<path class="t" d="M741 487.6 C742.4 489.7 746.8 495.1 749.6 500.4 C752.4 505.7 755.7 513.2 757.6 519.6 C759.5 526 761.1 534.5 761.3 538.8 C761.5 543.1 759.1 544.4 758.7 545.5"/>
<path class="k" d="M742.4 485.2 C744.5 487.7 751.5 494.7 754.9 500.4 C758.3 506.1 761 513.2 762.9 519.6 C764.8 526 766.3 534.4 766.4 538.8 C766.5 543.2 764 544.8 763.5 546"/>
<path class="w" d="M734.4 464.4 L742.4 466.8 L745.6 473.2 L744 478 L739.2 485.2 L745.6 513.2 L752 542 L761.6 556.4 L772.8 555.8 L779.4 558.8 L781.2 564.8 L778.8 569.6 L776.4 578 L766.8 585.2 L759.6 592.4 L757.8 602 L754.8 609.2 L747.6 610.4 L741.6 606.8 L735.6 600.8 L734.4 592.4 L738 582.8 L729.6 572 L720 569.6 L702 560 L696 558 L678.4 562.8 L665.6 564.4 L659.2 558 L656 548.4 L655.2 542 L657.6 535.6 L651.2 532.4 L648.8 526 L649.6 516.4 L647.2 510 L646.4 502 L652.8 497.2 L664 490.8 L669.6 491.6 L671.2 482.8 L670.4 468.4 L677.6 462 L677.6 451.6 L692.8 442 L704 441.2 L724.8 450.8Z"/>
<path class="k" d="M677.6 451.6 L692.8 442 L704 440.9 M704 440.9 C705.9 441.6 711.6 443.5 715.2 445.2 C718.8 446.9 722.7 448.7 725.6 450.8 C728.5 452.9 731.3 455.9 732.8 458 C734.3 460.1 734.4 462.7 734.7 463.6"/>
<path class="k" d="M677.6 451.6 L678.4 462"/>
<path class="k" d="M678.4 462 C678.7 463.9 678.7 469.9 680 473.2 C681.3 476.5 685.3 480.1 686.4 481.5"/>
<path class="k" d="M686.4 481.5 L697.6 478 L712 471.9 L720.8 468.4"/>
<path class="m" d="M680.8 454 L694.4 446.8 L696.8 454 L708.8 462 L720 467.6"/>
<path class="t" d="M694.4 446.8 L692.8 442.5"/>
<path class="t" d="M696.8 454 L688 458.8"/>
<path class="m" d="M708.8 462 L697.6 468.4 L698.4 476.4"/>
<ellipse class="k w" cx="704" cy="449.2" rx="6.2" ry="3.8" transform="rotate(8 704 449.2)"/>
<path class="k" d="M698.4 447.6 C698.9 447.3 700.1 445.9 701.6 445.7 C703.1 445.4 705.8 445.5 707.2 446 C708.6 446.5 709.6 448.4 710.1 448.9" style="stroke-width:3.2"/>
<ellipse class="k w" cx="714.9" cy="456.4" rx="6.6" ry="4.2" transform="rotate(8 714.9 456.4)"/>
<path class="k" d="M708.8 454.8 C709.3 454.5 710.4 453 712 452.7 C713.6 452.5 716.9 452.7 718.4 453.4 C719.9 454 720.8 455.9 721.3 456.4" style="stroke-width:3.2"/>
<path class="m" d="M710.4 458.8 C711.1 459.1 712.8 460.7 714.4 460.7 C716 460.7 719.1 459.1 720 458.8"/>
<ellipse class="m" cx="681.3" cy="456.4" rx="1.6" ry="1.4"/>
<ellipse class="m" cx="724.8" cy="462.8" rx="1.6" ry="1.4"/>
<ellipse class="k w" cx="685.6" cy="469.2" rx="6" ry="7.6" transform="rotate(-10 685.6 469.2)" style="stroke-width:2.6"/>
<ellipse class="m" cx="686.7" cy="470" rx="3.6" ry="5" transform="rotate(-10 686.7 470)"/>
<path class="k w" d="M678.4 466 C677.6 465.9 674.9 465 673.6 465.5 C672.3 466.1 670.9 467.8 670.4 469.2 C669.9 470.6 670.1 472.7 670.7 474 C671.4 475.3 673 476.5 674.4 476.7 C675.8 477 678.4 475.8 679.2 475.6"/>
<ellipse class="k" cx="674.4" cy="471.9" rx="2.8" ry="3.4"/>
<path class="k w" d="M720.8 475.1 L739.2 464.4 M739.2 464.4 C740 464.9 742.9 465.7 744 467.1 C745.1 468.6 745.7 471.3 745.6 473.2 C745.5 475.1 744 477.5 743.7 478.3 M743.7 478.3 L727.7 485.2"/>
<ellipse class="k w" cx="723.5" cy="479.9" rx="4.2" ry="5.2" transform="rotate(-15 723.5 479.9)"/>
<ellipse class="m" cx="723.5" cy="479.9" rx="2" ry="2.6" transform="rotate(-15 723.5 479.9)"/>
<path class="h" d="M729.6 470.8 C730.1 471.6 732.4 473.6 732.8 475.6 C733.2 477.6 732.1 481.6 732 482.8"/>
<path class="k" d="M691.2 482.8 L691.2 506.8"/>
<path class="k" d="M703.2 479.6 L703.2 505.2"/>
<path class="k" d="M732.8 484.4 L732.8 498"/>
<path class="m" d="M739.2 485.2 L738.4 497.2"/>
<path class="h" d="M715.2 478 L715.2 505.2" stroke-dasharray="8 5"/>
<path class="m" d="M703.2 479.6 L712 475.6 L720 482.8"/>
<path class="k" d="M739.2 485.2 C739.9 488 741.6 495.2 743.2 502 C744.8 508.8 747.3 519.3 748.8 526 C750.3 532.7 749.9 536.9 752 542 C754.1 547.1 761 552.6 761.6 556.4 C762.2 560.2 756.4 563.4 755.4 564.8"/>
<path class="h" d="M750.4 532.4 L752 542"/>
<path class="k w" d="M671.2 491.6 L685.1 486 M685.1 486 C685.6 486.5 687.5 487.9 688 489.2 C688.5 490.5 688 492.8 688 493.5 M688 493.5 L674.4 499.6"/>
<ellipse class="k w" cx="672.5" cy="495.6" rx="3.2" ry="4.2" transform="rotate(-15 672.5 495.6)"/>
<path class="k" d="M669.6 492.1 L664 490.8 L652.8 497.2 L646.4 502"/>
<path class="k" d="M646.4 502 C646.5 503.3 646.2 507.6 646.7 510 C647.3 512.4 649.3 513.7 649.6 516.4 C649.9 519.1 648.5 523.3 648.8 526 C649.1 528.7 649.7 530.8 651.2 532.4 C652.7 534 656.5 535.1 657.6 535.6"/>
<ellipse class="k w" cx="649.9" cy="506.8" rx="3.6" ry="4.2"/>
<ellipse class="m" cx="649.9" cy="507.1" rx="1.6" ry="2"/>
<path class="k" d="M654.4 500.4 C654.9 501.5 657.3 504.7 657.6 506.8 C657.9 508.9 656.3 512.1 656 513.2"/>
<path class="m" d="M656 513.2 L662.4 510 L664 500.4 L676.8 505.2"/>
<path class="m" d="M662.4 510 C662.9 511.6 665.3 516.4 665.6 519.6 C665.9 522.8 665.3 526.5 664 529.2 C662.7 531.9 658.7 534.5 657.6 535.6"/>
<path class="m" d="M676.8 505.2 C677.3 506.5 679.1 509.7 680 513.2 C680.9 516.7 681.6 523.9 681.9 526"/>
<path class="k" d="M664 529.2 L683.2 534" style="stroke-width:2.6"/>
<path class="t" d="M665.6 519.6 L681.6 522"/>
<path class="k" d="M657.6 535.6 C657.2 536.7 655.5 539.9 655.2 542 C654.9 544.1 654.5 546.5 656 548.4 C657.5 550.3 662.7 552.4 664 553.2"/>
<path class="k" d="M656 540.4 L688 547.6"/>
<path class="m" d="M656.8 545.2 L691.2 551.6"/>
<path class="k" d="M664.8 551.6 C664 552.4 660.4 554.5 660 556.4 C659.6 558.3 660.8 561.3 662.4 562.8 C664 564.3 666.9 565.2 669.6 565.2 C672.3 565.2 676.9 563.2 678.4 562.8"/>
<ellipse class="k w" cx="669.6" cy="556.7" rx="4" ry="4.6"/>
<ellipse class="m" cx="669.6" cy="557" rx="1.8" ry="2.2"/>
<path class="k" d="M678.4 562.8 L680 556.4 L692.8 553.2"/>
<path class="k" d="M678.4 562.8 L696 558.3"/>
<path class="k w" d="M682.4 510 C683.1 506.7 683.9 506.7 688 506.5 C692.1 506.2 702 506.3 707.2 508.4 C712.4 510.5 716.5 515.3 719.2 518.8 C721.9 522.3 723.4 525.3 723.5 529.2 C723.7 533.1 722.1 538 720 542 C717.9 546 714.1 550.5 711.2 553.2 C708.3 555.9 704.9 557.8 702.4 558.3 C699.9 558.9 698.4 559.1 696 556.4 C693.6 553.7 690.1 547.1 688 542 C685.9 536.9 684.5 531.3 683.5 526 C682.6 520.7 681.7 513.3 682.4 510Z"/>
<ellipse class="k" cx="700.8" cy="532.4" rx="12" ry="16" transform="rotate(-12 700.8 532.4)" style="stroke-width:3.2"/>
<ellipse class="m" cx="701.6" cy="533.2" rx="9.6" ry="13" transform="rotate(-12 701.6 533.2)"/>
<ellipse class="k" cx="699.5" cy="532.4" rx="6.4" ry="8.6" transform="rotate(-12 699.5 532.4)"/>
<ellipse class="k" cx="699.2" cy="531.1" rx="2.4" ry="2.8"/>
<path class="k" d="M689.6 529.2 C689.9 527.6 689.9 522 691.2 519.6 C692.5 517.2 695.5 515.6 697.6 514.8 C699.7 514 702.9 514.8 704 514.8" style="stroke-width:3.2"/>
<ellipse class="m" cx="682.9" cy="509.7" rx="2" ry="2.2"/>
<ellipse class="m" cx="718.7" cy="530" rx="2.2" ry="2.6"/>
<ellipse class="m" cx="699.5" cy="555.6" rx="2.2" ry="2.4"/>
<path class="k w" d="M726.4 524.7 L740 518 M740 518 C740.5 518.4 742.8 519.2 743.2 520.4 C743.6 521.6 742.5 524.4 742.4 525.2 M742.4 525.2 L730.9 532.1"/>
<ellipse class="k w" cx="728.8" cy="528.4" rx="3.4" ry="4.2" transform="rotate(-15 728.8 528.4)"/>
<path class="k" d="M718.2 545.6 L745.2 584" style="stroke-width:3.2"/>
<path class="k" d="M726 542 L757.2 584" style="stroke-width:3.2"/>
<path class="k" d="M720 542 L718.2 545.6"/>
<path class="k" d="M726.4 538.8 L726 542"/>
<path class="k" d="M696 558 C697 558.3 698 558.1 702 560 C706 561.9 715.4 567.6 720 569.6 C724.6 571.6 726.6 569.8 729.6 572 C732.6 574.2 736.6 581 738 582.8"/>
<path class="k" d="M738 582.8 C737.4 584.4 734.8 589.4 734.4 592.4 C734 595.4 734.4 598.4 735.6 600.8 C736.8 603.2 739.6 605.2 741.6 606.8 C743.6 608.4 745.4 610 747.6 610.4 C749.8 610.8 753.1 610.6 754.8 609.2 C756.5 607.8 757.4 604.8 757.8 602 C758.2 599.2 757.3 594 757.2 592.4"/>
<ellipse class="k w" cx="739.8" cy="596.6" rx="4.6" ry="5.6" transform="rotate(-10 739.8 596.6)"/>
<ellipse class="m" cx="739.8" cy="596.8" rx="2" ry="2.6" transform="rotate(-10 739.8 596.8)"/>
<path class="m" d="M745.2 584 L746.4 592.4 L757.2 587.6"/>
<path class="m" d="M746.4 592.4 L747.6 602"/>
<path class="k w" d="M755.4 564.8 L772.8 555.8 M772.8 555.8 C773.9 556.3 778 557.3 779.4 558.8 C780.8 560.3 781.5 563.1 781.4 564.8 C781.3 566.5 779.2 568.3 778.8 569 M778.8 569 L762 577.4"/>
<ellipse class="k w" cx="758.4" cy="571" rx="4.6" ry="6.4" transform="rotate(-15 758.4 571)"/>
<ellipse class="m" cx="758.4" cy="571.4" rx="2" ry="2.8" transform="rotate(-15 758.4 571.4)"/>
<path class="h" d="M769.2 558.2 C769.8 559.1 772.4 561.3 772.8 563.6 C773.2 565.9 771.8 570.6 771.6 572"/>
<path class="k" d="M778.8 569.6 C778.4 571 778.4 575.4 776.4 578 C774.4 580.6 769.6 582.8 766.8 585.2 C764 587.6 761.2 590.4 759.6 592.4 C758 594.4 757.6 596.4 757.2 597.2"/>
<path class="m" d="M774 575.6 C772.8 576.4 768.8 578.6 766.8 580.4 C764.8 582.2 762.8 585.4 762 586.4"/>
<path class="m" d="M762 586.4 C762.8 586.8 765.6 589.4 766.8 588.8 C768 588.2 768.8 583.8 769.2 582.8"/>
</g>
<g id="small">
<path class="k w" d="M221.7 234 L221.7 250 M221.7 250 C222.3 250.3 224.2 252 225.5 252 C226.8 252 228.7 250.3 229.3 250 M229.3 250 L229.3 234"/>
<path class="t" d="M221.7 237.2 L229.3 236"/>
<path class="t" d="M221.7 240 L229.3 238.8"/>
<path class="t" d="M221.7 242.8 L229.3 241.6"/>
<path class="t" d="M221.7 245.6 L229.3 244.4"/>
<path class="t" d="M221.7 248.4 L229.3 247.2"/>
<path class="k w" d="M219.3 228.5 L219.3 233 M219.3 233 C220.3 233.5 223.4 236 225.5 236 C227.6 236 230.7 233.5 231.7 233 M231.7 233 L231.7 228.5"/>
<ellipse class="k w" cx="225.5" cy="228.5" rx="6.2" ry="2.6"/>
<ellipse class="t" cx="225.5" cy="228.6" rx="3.1" ry="1.2"/>
<path class="k w" d="M594.9 197 L594.9 212 M594.9 212 C595.5 212.3 597.3 214 598.5 214 C599.7 214 601.5 212.3 602.1 212 M602.1 212 L602.1 197"/>
<path class="t" d="M594.9 200.2 L602.1 199"/>
<path class="t" d="M594.9 202.8 L602.1 201.6"/>
<path class="t" d="M594.9 205.4 L602.1 204.2"/>
<path class="t" d="M594.9 208 L602.1 206.8"/>
<path class="t" d="M594.9 210.6 L602.1 209.4"/>
<path class="k w" d="M592.5 191.5 L592.5 196 M592.5 196 C593.5 196.5 596.5 199 598.5 199 C600.5 199 603.5 196.5 604.5 196 M604.5 196 L604.5 191.5"/>
<ellipse class="k w" cx="598.5" cy="191.5" rx="6" ry="2.6"/>
<ellipse class="t" cx="598.5" cy="191.6" rx="3" ry="1.2"/>
<path class="k w" d="M710.4 143.5 L710.4 161 M710.4 161 C711 161.3 712.8 163 714 163 C715.2 163 717 161.3 717.6 161 M717.6 161 L717.6 143.5"/>
<path class="t" d="M710.4 146.7 L717.6 145.5"/>
<path class="t" d="M710.4 149.3 L717.6 148.1"/>
<path class="t" d="M710.4 151.9 L717.6 150.7"/>
<path class="t" d="M710.4 154.4 L717.6 153.2"/>
<path class="t" d="M710.4 157 L717.6 155.8"/>
<path class="t" d="M710.4 159.6 L717.6 158.4"/>
<path class="k w" d="M708.4 136.5 L708.4 142.5 M708.4 142.5 C709.3 143 712.1 145.5 714 145.5 C715.9 145.5 718.7 143 719.6 142.5 M719.6 142.5 L719.6 136.5"/>
<ellipse class="k w" cx="714" cy="136.5" rx="5.6" ry="2.6"/>
<ellipse class="t" cx="714" cy="136.6" rx="2.8" ry="1.2"/>
<path class="k w" d="M708 398.8 L708 408.8 M708 408.8 C709.4 409.3 713.5 412 716.2 412 C719 412 723.1 409.3 724.5 408.8 M724.5 408.8 L724.5 398.8"/>
<path class="t" d="M708 405.5 C709.4 406 713.5 408.5 716.2 408.5 C719 408.5 723.1 406 724.5 405.5"/>
<path class="k w" d="M697 381.2 L696.2 390 L703.8 398.8 L717.5 400 L730 394.5 L731.2 381.2Z"/>
<path class="m" d="M703.8 398.8 L704.5 385"/>
<path class="m" d="M717.5 400 L718 387"/>
<path class="m" d="M697 381.2 C698.2 382 701 384.5 704.5 385.5 C708 386.5 713.5 388.2 718 387.5 C722.5 386.8 729 382.3 731.2 381.2"/>
<ellipse class="k w" cx="714.5" cy="378" rx="17" ry="8.6"/>
<ellipse class="t" cx="714.5" cy="378" rx="13" ry="6"/>
<path class="t" d="M710 379.5 L713.8 375"/>
<path class="t" d="M713.8 380.5 L717.5 375.5"/>
<path class="t" d="M717.5 380.5 L721 376"/>
<path class="k" d="M725 396.2 C725.8 395.4 729.1 393.3 730 391.2 C730.9 389.2 730.4 385 730.5 383.8" style="stroke-width:2.6"/>
<path class="k w" d="M696.8 421.2 L697 429.5 M697 429.5 C698.3 430.2 702.2 433.8 705 433.8 C707.8 433.8 712.3 430.2 713.8 429.5 M713.8 429.5 L713.8 421.2"/>
<path class="t" d="M697 425 C698.3 425.6 702.2 428.8 705 428.8 C707.8 428.8 712.3 425.6 713.8 425"/>
<path class="t" d="M697 427.2 C698.3 427.9 702.2 431 705 431 C707.8 431 712.3 427.9 713.8 427.2"/>
<path class="t" d="M697 429.5 C698.3 430.1 702.2 433.2 705 433.2 C707.8 433.2 712.3 430.1 713.8 429.5"/>
<ellipse class="k w" cx="705.2" cy="421" rx="8.6" ry="5"/>
<ellipse class="k" cx="705.2" cy="421.2" rx="4.6" ry="2.6" style="stroke-width:2.6"/>
<path class="k w" d="M630.5 530.5 L640.5 530.2 M640.5 530.2 C641.3 531 644.5 532.9 645.5 534.5 C646.5 536.1 646.8 538.2 646.8 540 C646.7 541.8 645.9 544.1 645 545.5 C644.1 546.9 641.9 548 641.2 548.5 M641.2 548.5 L632 549.2"/>
<ellipse class="k w" cx="631.2" cy="539.8" rx="4.8" ry="9.6" transform="rotate(-5 631.2 539.8)"/>
<path class="k" d="M635 548 C636 547.9 639.5 548.3 641.2 547.5 C643 546.7 644.8 543.8 645.5 543" style="stroke-width:2.6"/>
<path class="t" d="M637.5 530.5 C638.2 531.5 640.8 534 641.5 536.2 C642.2 538.5 642 541.7 641.5 543.8 C641 545.8 639.2 547.7 638.8 548.5"/>
<path class="k w" d="M781.8 612.8 C782 610.7 784.1 608.5 786 606.8 C787.9 605.1 791.2 603 793.2 602.6 C795.2 602.2 796.6 603.3 798 604.4 C799.4 605.5 801.6 607.2 801.6 609.2 C801.6 611.2 799.8 614.4 798 616.4 C796.2 618.4 793 620.7 790.8 621.2 C788.6 621.7 786.3 620.8 784.8 619.4 C783.3 618 781.6 614.9 781.8 612.8Z"/>
<path class="m" d="M786 606.8 C786.6 607.6 788.9 609.3 789.6 611.6 C790.3 613.9 790.1 619.1 790.2 620.6"/>
<path class="k" d="M782.4 614 C782.8 614.7 783.5 617.1 784.8 618.2 C786.1 619.3 789.3 620.2 790.2 620.6" style="stroke-width:2.6"/>
<path class="t" d="M792 615.2 L795.6 612.8"/>
<path class="k w" d="M694.8 617 L717 603.8 M717 603.8 C717.6 604 719.9 604.1 720.6 605 C721.3 605.9 721.3 608.7 721.4 609.4 M721.4 609.4 L697.2 622.6"/>
<path class="t" d="M700.8 614 L703.3 619"/>
<path class="t" d="M702.9 612.8 L705.4 617.8"/>
<path class="t" d="M705 611.5 L707.5 616.5"/>
<path class="t" d="M707.1 610.3 L709.6 615.3"/>
<path class="t" d="M709.2 609.1 L711.7 614.1"/>
<path class="t" d="M711.3 607.9 L713.8 612.9"/>
<path class="t" d="M713.4 606.6 L715.9 611.6"/>
<path class="t" d="M715.5 605.4 L718 610.4"/>
<path class="t" d="M717.6 604.2 L720.1 609.2"/>
<path class="k w" d="M688 615 C689.2 615.2 693.7 614.8 695.5 616.2 C697.3 617.7 698.6 621.4 698.8 623.8 C698.9 626.1 697.7 629 696.2 630.5 C694.8 632 691 632.6 690 633"/>
<ellipse class="k w" cx="688" cy="624.2" rx="6.6" ry="9" transform="rotate(-20 688 624.2)"/>
<ellipse class="k" cx="687.5" cy="625" rx="2.6" ry="3.6" transform="rotate(-20 687.5 625)"/>
<path class="k" d="M683.8 630 C684.6 630.6 686.8 633.7 688.8 633.8 C690.7 633.8 694.4 631 695.5 630.5" style="stroke-width:2.6"/>
<path class="k w" d="M600.8 508.7 C601.7 508.5 604.6 506.5 606.4 507.3 C608.1 508.1 610.6 511.3 611.3 513.6 C612 515.9 610.7 520 610.6 521.3"/>
<path class="k w" d="M582.6 508.7 L589.6 503.8 L594.1 505.9 L613.7 524.8 L612 530.7 L604.3 538.8 L585.4 516.7Z"/>
<path class="w" d="M561.6 534.2 L589.6 515.7 L604.3 538.8 L572.8 556.7Z"/>
<path class="k" d="M561.6 534.2 L589.6 515.7"/>
<path class="k" d="M572.8 556.7 L604.3 539.1" style="stroke-width:3.2"/>
<path class="m" d="M589.6 515.7 C591 516.8 595.5 518.1 598 522 C600.5 525.9 603.2 536 604.3 538.8"/>
<path class="m" d="M589.6 503.8 C590.1 504.9 591 508 592.4 510.1 C593.8 512.2 594.7 513.2 598 516.7 C601.3 520.1 609.7 528.3 612 530.7"/>
<ellipse class="k w" cx="566.1" cy="545.2" rx="8.8" ry="11.8" transform="rotate(-18 566.1 545.2)"/>
<ellipse class="k" cx="566.9" cy="545.8" rx="6" ry="8.4" transform="rotate(-18 566.9 545.8)" style="stroke-width:2.6"/>
<ellipse class="m" cx="587.5" cy="509" rx="1.5" ry="2"/>
<ellipse class="m" cx="606.7" cy="527.9" rx="1.5" ry="2"/>
<path class="k" d="M576.7 522 C577 521.3 577.4 518.7 578.4 518.1 C579.4 517.5 581.9 518.4 582.6 518.5"/>
<path class="t" d="M574.2 537.4 L579.8 533.9" stroke-dasharray="2 2"/>
<path class="h" d="M577 545.8 L586.8 540.2" stroke-dasharray="3 2"/>
<ellipse class="k" cx="618" cy="508" rx="6.2" ry="7.6" transform="rotate(-20 618 508)" style="stroke-width:2.6"/>
<ellipse class="k" cx="548.3" cy="555.6" rx="6" ry="7.6" transform="rotate(-20 548.3 555.6)" style="stroke-width:2.6"/>
<path class="k w" d="M550.6 532.9 L562.1 525.5 M562.1 525.5 C562.1 525 562.3 523 561.8 522.2 C561.2 521.3 559.4 520.8 558.9 520.5 M558.9 520.5 L547.4 527.9"/>
<ellipse class="k w" cx="548.6" cy="530.6" rx="3" ry="5.4" transform="rotate(-32.7 548.6 530.6)"/>
<ellipse class="k w" cx="546.5" cy="532" rx="3.2" ry="5.6" transform="rotate(-32.7 546.5 532)"/>
<path class="t" d="M545 529.8 L548 534.2"/>
<path class="t" d="M544.7 533.5 L548.3 530.5"/>
<path class="k w" d="M434.5 646.9 L446.3 641.2 M446.3 641.2 C446.3 640.6 446.8 638.7 446.4 637.8 C445.9 636.9 444.1 636.1 443.7 635.8 M443.7 635.8 L431.9 641.5"/>
<ellipse class="k w" cx="432.8" cy="644.4" rx="3" ry="5.4" transform="rotate(-25.8 432.8 644.4)"/>
<ellipse class="k w" cx="430.5" cy="645.5" rx="3.2" ry="5.6" transform="rotate(-25.8 430.5 645.5)"/>
<path class="t" d="M429 643.3 L432 647.7"/>
<path class="t" d="M428.7 647 L432.3 644"/>
<path class="k w" d="M528 561.9 L536.7 557.7 M536.7 557.7 C537.1 558.2 539.1 559.1 539.5 560.5 C539.9 561.9 539.2 565.2 539.2 566.1 M539.2 566.1 L531.5 569.6"/>
<path class="t" d="M531.1 561.2 C531.5 561.8 533.3 563.5 533.7 564.7 C534 566 533.3 568 533.3 568.7"/>
<path class="t" d="M532.9 560.3 C533.4 560.9 535.2 562.5 535.5 563.8 C535.9 565 535.2 567.1 535.1 567.8"/>
<path class="t" d="M534.8 559.3 C535.2 559.9 537 561.6 537.4 562.8 C537.8 564.1 537.1 566.2 537 566.8"/>
<path class="t" d="M536.7 558.4 C537.1 559 538.9 560.6 539.3 561.9 C539.6 563.1 538.9 565.2 538.9 565.9"/>
<path class="k w" d="M518.2 561.2 C519.1 561.2 522 560.2 523.8 560.9 C525.5 561.6 527.8 563.5 528.7 565.4 C529.6 567.3 529.9 570.3 529.4 572.4 C528.9 574.5 527.3 576.6 525.9 578 C524.5 579.4 521.8 580.6 521 581.1"/>
<ellipse class="k w" cx="518.2" cy="571.1" rx="7.8" ry="10" transform="rotate(-18 518.2 571.1)"/>
<path class="k" d="M514 569.6 C514.6 569.2 516.1 567.5 517.5 567.5 C518.9 567.5 521.6 569.2 522.4 569.6" style="stroke-width:2.6"/>
<path class="m" d="M514.7 573.8 C515.4 574.3 517.6 576.7 518.9 576.6 C520.2 576.5 521.8 573.7 522.4 573.1"/>
<path class="m" d="M517.5 567.5 L519.6 576.6"/>
<ellipse class="k" cx="578" cy="597.5" rx="3.2" ry="4" transform="rotate(-20 578 597.5)" style="stroke-width:2.1"/>
<ellipse class="k" cx="555" cy="610.8" rx="13.2" ry="20.8" transform="rotate(-28 555 610.8)" style="stroke-width:3"/>
<ellipse class="k w" cx="438" cy="588.5" rx="13.4" ry="17" transform="rotate(18 438 588.5)" style="stroke-width:2.2"/>
<ellipse class="k" cx="438.5" cy="589" rx="2.6" ry="4.6" transform="rotate(32 438.5 589)" style="stroke-width:2.4"/>
</g>
<g id="valve">
<path class="k w" d="M495.2 604 C495.8 602.7 497.5 601 498.9 600.8 C500.3 600.6 504.1 601.7 505.6 602.4 C507.1 603.1 508.9 606.2 510.4 606.4 C511.9 606.6 514.7 603.7 516.8 604 C518.9 604.3 524.1 606.3 526.4 608.8 C528.7 611.3 532.3 620.5 534.4 622.9 C536.5 625.2 541 625.3 542.4 626.4 C543.8 627.5 545 630 545 631.2 C545 632.4 543.6 634.8 542.4 635.5 C541.2 636.2 537.7 636.7 536 636.3 C534.3 636 531.3 633.9 529.6 632.8 C527.9 631.7 527.9 631 523.2 628 C518.5 625 498.1 613.6 494.4 610.4 C490.7 607.2 494.6 605.3 495.2 604Z"/>
<ellipse class="m" cx="498.4" cy="607.2" rx="1.8" ry="2.4"/>
<ellipse class="m" cx="536.3" cy="630.6" rx="1.8" ry="2.4"/>
<path class="t" d="M510.4 606.4 C512 607.3 517.2 609.2 520 612 C522.8 614.8 525.6 619.7 527.2 623.2 C528.8 626.7 529.2 631.2 529.6 632.8"/>
<path class="k w" d="M466.9 596.8 L460 595.4 L453.6 597.9 L454.9 607.2 L459.7 611.8 L460 614.4 L479.2 626.4"/>
<path class="w" d="M466.9 596.8 L470.4 596 L495.2 610.1 L526.4 628 L529.6 632.8 L504 644 L479.2 626.4 L459.7 611.8Z"/>
<path class="k" d="M466.9 596.8 L470.4 596 L495.2 610.1"/>
<path class="k" d="M495.2 610.1 L518.4 624.8 L526.4 628"/>
<path class="m" d="M466.9 596.8 C466.3 598 464.4 601.5 463.2 604 C462 606.5 460.3 610.5 459.7 611.8"/>
<path class="m" d="M460 595.4 L461.4 604 L454.9 607.2"/>
<path class="t" d="M461.4 604 L463.4 604.3"/>
<path class="k" d="M484.8 613.6 C484 614.3 480.8 615.5 480 617.6 C479.2 619.7 480 624.9 480 626.4"/>
<path class="m" d="M491.2 612 C490.4 613.1 487.2 615.5 486.4 618.4 C485.6 621.3 486.4 627.7 486.4 629.6"/>
<path class="k" d="M480 626.4 L486.4 629.9"/>
<path class="t" d="M507.2 620 L526.4 630.9"/>
<path class="k w" d="M470.4 641.6 C472.8 639.9 480.5 632.5 484.8 631.2 C489.1 629.9 492.8 631.9 496 634.1 C499.2 636.2 502.9 640.5 504 644 C505.1 647.5 503.7 652.5 502.4 655.2 C501.1 657.9 500.7 657.5 496 660 C491.3 662.5 478 668.3 474.4 669.9"/>
<path class="m" d="M486.4 629.9 L496 634.1"/>
<ellipse class="k w" cx="470.1" cy="655.7" rx="8.6" ry="13.4" transform="rotate(-20 470.1 655.7)"/>
<ellipse class="k" cx="471.4" cy="656.5" rx="5.8" ry="10" transform="rotate(-20 471.4 656.5)" style="stroke-width:2.6"/>
<path class="t" d="M467.2 648.8 C468 649.1 470.5 649.7 472 650.4 C473.5 651.1 475.3 652.4 476 652.8"/>
<path class="t" d="M467.7 652.3 C468.5 652.5 470.9 653 472.3 653.6 C473.7 654.2 475.4 655.3 476 655.7"/>
<path class="t" d="M468.2 655.8 C468.9 656 471.3 656.3 472.6 656.8 C473.9 657.3 475.4 658.3 476 658.6"/>
<path class="t" d="M468.6 659.4 C469.4 659.5 471.7 659.7 473 660 C474.2 660.3 475.5 661.2 476 661.4"/>
<path class="t" d="M469.1 662.9 C469.8 662.9 472.1 663 473.3 663.2 C474.4 663.4 475.5 664.1 476 664.3"/>
<path class="k" d="M503.2 645.3 L508 647.2"/>
<path class="k" d="M501.6 655.2 L505.9 660"/>
<path class="k" d="M514.4 644 C514.5 642.9 514.4 639.3 515.2 637.6 C516 635.9 517.2 634.9 519.2 634.1 C521.2 633.3 525.9 633 527.2 632.8"/>
<path class="m" d="M518.4 645.6 C518.5 644.7 518.4 641.5 519.2 640 C520 638.5 521.5 637.5 523.2 636.8 C524.9 636.1 528.5 636.1 529.6 636"/>
<path class="k" d="M533.6 636 C534.1 636.9 536.6 639.6 536.8 641.6 C537 643.6 535.1 646.9 534.7 648"/>
<path class="m" d="M540 636 C540.2 637.1 541.4 640.3 541.1 642.4 C540.9 644.5 538.9 647.7 538.4 648.8"/>
<path class="m" d="M526.4 628 L523.2 642.4"/>
<path class="k w" d="M512.8 647.2 C516.5 646.1 524.7 644.7 529.6 645.3 C534.5 645.8 538.9 647.7 542.4 650.4 C545.9 653.1 548.9 657.3 550.4 661.6 C551.9 665.9 552 671.7 551.2 676 C550.4 680.3 548.4 684.8 545.6 687.2 C542.8 689.6 538.1 690.5 534.4 690.4 C530.7 690.3 527.2 687.5 523.2 686.4 C519.2 685.3 513.5 686 510.4 684 C507.3 682 505.9 677.9 504.8 674.4 C503.7 670.9 503.6 666.9 504 663.2 C504.4 659.5 505.7 654.7 507.2 652 C508.7 649.3 509.1 648.3 512.8 647.2Z"/>
<ellipse class="k" cx="512.8" cy="665.9" rx="8.6" ry="18" transform="rotate(-12 512.8 665.9)"/>
<path class="t" d="M511.3 683.6 L516.8 685.1"/>
<path class="t" d="M509.3 682.4 L514.8 683.9"/>
<path class="t" d="M507.5 680.1 L513 681.6"/>
<path class="t" d="M506 677 L511.5 678.5"/>
<path class="t" d="M504.9 673.2 L510.4 674.7"/>
<path class="t" d="M504.3 669 L509.8 670.5"/>
<path class="t" d="M504.2 664.7 L509.7 666.2"/>
<path class="t" d="M504.6 660.4 L510.1 661.9"/>
<path class="t" d="M505.5 656.4 L511 657.9"/>
<path class="t" d="M506.8 653 L512.3 654.5"/>
<path class="t" d="M508.5 650.3 L514 651.8"/>
<path class="t" d="M510.4 648.6 L515.9 650.1"/>
<ellipse class="m" cx="520" cy="667.7" rx="9" ry="18.6" transform="rotate(-12 520 667.7)"/>
<ellipse class="k w" cx="536" cy="670.4" rx="14.6" ry="20" transform="rotate(-14 536 670.4)"/>
<ellipse class="m" cx="536.5" cy="670.9" rx="11.6" ry="16.6" transform="rotate(-14 536.5 670.9)"/>
<ellipse class="k" cx="527.7" cy="669.6" rx="2.6" ry="3.2"/>
<path class="k" d="M529.6 663.2 L542.4 676"/>
<path class="k" d="M531.2 677.6 L544 666.4"/>
<path class="m" d="M536 663.2 L537.6 679.2"/>
<path class="k" d="M534.4 669.6 C534.9 669.1 536.4 666.5 537.6 666.4 C538.8 666.3 541.1 667.5 541.6 668.8 C542.1 670.1 541.7 673.2 540.8 674.4 C539.9 675.6 537.1 676.8 536 676 C534.9 675.2 534.7 670.7 534.4 669.6" style="stroke-width:2.6"/>
<path class="k" d="M523.2 676 C523.7 677.3 524.8 682.1 526.4 684 C528 685.9 531.7 686.9 532.8 687.5" style="stroke-width:2.6"/>
</g>
<g id="hose">
<path d="M511.6 723.6 C513.2 722.4 517.2 718.1 521.2 716.4 C525.2 714.7 530.4 713.5 535.6 713.2 C540.8 712.9 547.4 713.3 552.4 714.4 C557.4 715.5 561.8 717.7 565.6 719.8 C569.4 721.9 572.2 724.7 575.2 727 C578.2 729.3 582.1 732.4 583.5 733.5 L583.5 733.5 C584.4 732.2 587.7 729.2 588.6 726 C589.5 722.8 589.8 717.8 588.8 714 C587.8 710.2 585.2 706.4 582.6 703 C580 699.6 576.4 696 573 693.4 C569.6 690.8 564.8 688.7 562 687.4 C559.2 686.1 557.3 685.9 556.4 685.6" fill="none" stroke="#0a0a0a" stroke-width="10.4" stroke-linecap="round" stroke-linejoin="round"/>
<path d="M511.6 723.6 C513.2 722.4 517.2 718.1 521.2 716.4 C525.2 714.7 530.4 713.5 535.6 713.2 C540.8 712.9 547.4 713.3 552.4 714.4 C557.4 715.5 561.8 717.7 565.6 719.8 C569.4 721.9 572.2 724.7 575.2 727 C578.2 729.3 582.1 732.4 583.5 733.5 L583.5 733.5 C584.4 732.2 587.7 729.2 588.6 726 C589.5 722.8 589.8 717.8 588.8 714 C587.8 710.2 585.2 706.4 582.6 703 C580 699.6 576.4 696 573 693.4 C569.6 690.8 564.8 688.7 562 687.4 C559.2 686.1 557.3 685.9 556.4 685.6" fill="none" stroke="#fff" stroke-width="6.4" stroke-linecap="round" stroke-linejoin="round"/>
<path class="k w" d="M467.6 750.6 L510.1 729.1 L505.9 720.9 L463.4 742.4Z"/>
<ellipse class="k w" cx="465.5" cy="746.5" rx="2.6" ry="4.6" transform="rotate(-26.8 465.5 746.5)"/>
<path class="k w" d="M510.1 729.1 C510 728.3 510.5 725.5 509.8 724.1 C509.1 722.7 506.6 721.4 505.9 720.9"/>
</g>
<g id="tank">
<g><path class="w" d="M313.8 858.8 L192.5 790 L186.5 782.5 L185.8 777.5 L185.8 705 L187.8 697.2 L190.8 687.6 L198 678 L207.6 670.8 L254.4 644.4 L261.6 639.6 L268.8 637.8 L276 639 L279.6 641.4 L279.6 648 L258 661.2 L257.4 697.2 L270 715 L293.8 730 L293.8 719.5 L302.5 719.5 L303 735 L312.4 726 L366.4 697.8 L368.8 702 L376 699 L385.6 704.4 L394 716.4 L399.4 733.2 L398.5 735 L398.5 805 L395 816.2 L387.5 823 L330 855 L321.2 860Z"/>
<path class="k" d="M186.5 704.5 L309.2 772.6" style="stroke-width:1.9"/>
<path class="t" d="M191.5 710 L309.2 775.1"/>
<path class="k" d="M186.5 710.8 L309.2 779.4" style="stroke-width:1.9"/>
<path class="t" d="M197.8 719.8 L309.2 781.9"/>
<path class="k" d="M186.5 717 L309.2 786.1" style="stroke-width:1.9"/>
<path class="t" d="M204 729.6 L309.2 788.6"/>
<path class="k" d="M186.5 723.2 L309.2 792.8" style="stroke-width:1.9"/>
<path class="t" d="M191.5 728.8 L309.2 795.3"/>
<path class="k" d="M186.5 729.5 L309.2 799.6" style="stroke-width:1.9"/>
<path class="t" d="M197.8 738.7 L309.2 802.1"/>
<path class="k" d="M186.5 735.8 L309.2 806.3" style="stroke-width:1.9"/>
<path class="t" d="M204 748.6 L309.2 808.8"/>
<path class="k" d="M186.5 742 L309.2 813.1" style="stroke-width:1.9"/>
<path class="t" d="M191.5 747.6 L309.2 815.6"/>
<path class="k" d="M186.5 748.2 L309.2 819.8" style="stroke-width:1.9"/>
<path class="t" d="M197.8 757.6 L309.2 822.3"/>
<path class="k" d="M186.5 754.5 L309.2 826.6" style="stroke-width:1.9"/>
<path class="t" d="M204 767.5 L309.2 829.1"/>
<path class="k" d="M186.5 760.8 L309.2 833.3" style="stroke-width:1.9"/>
<path class="t" d="M191.5 766.5 L309.2 835.8"/>
<path class="k" d="M186.5 767 L309.2 840" style="stroke-width:1.9"/>
<path class="t" d="M197.8 776.4 L309.2 842.5"/>
<path class="k" d="M186.5 773.2 L309.2 846.8" style="stroke-width:1.9"/>
<path class="t" d="M204 786.5 L309.2 849.3"/>
<path class="k" d="M186.5 779.5 L305.5 851.2" style="stroke-width:1.9"/>
<path class="t" d="M191.5 785.3 L305.5 853.8"/>
<path class="t" d="M309.2 777.5 L309.2 851.2"/>
<path class="k" d="M309.5 778 L327 776.8" style="stroke-width:1.9"/>
<path class="t" d="M310.8 780.8 L326.2 779.8"/>
<path class="k" d="M309.5 784.4 L327 783.1" style="stroke-width:1.9"/>
<path class="t" d="M310.8 787.1 L326.2 786.1"/>
<path class="k" d="M309.5 790.8 L327 789.5" style="stroke-width:1.9"/>
<path class="t" d="M310.8 793.5 L326.2 792.5"/>
<path class="k" d="M309.5 797.1 L327 795.9" style="stroke-width:1.9"/>
<path class="t" d="M310.8 799.9 L326.2 798.9"/>
<path class="k" d="M309.5 803.5 L327 802.2" style="stroke-width:1.9"/>
<path class="t" d="M310.8 806.2 L326.2 805.2"/>
<path class="k" d="M309.5 809.9 L327 808.6" style="stroke-width:1.9"/>
<path class="t" d="M310.8 812.6 L326.2 811.6"/>
<path class="k" d="M309.5 816.2 L327 815" style="stroke-width:1.9"/>
<path class="t" d="M310.8 819 L326.2 818"/>
<path class="k" d="M309.5 822.6 L327 821.4" style="stroke-width:1.9"/>
<path class="t" d="M310.8 825.4 L326.2 824.4"/>
<path class="k" d="M309.5 829 L327 827.8" style="stroke-width:1.9"/>
<path class="t" d="M310.8 831.8 L326.2 830.8"/>
<path class="k" d="M309.5 835.4 L327 834.1" style="stroke-width:1.9"/>
<path class="t" d="M310.8 838.1 L326.2 837.1"/>
<path class="k" d="M309.5 841.8 L327 840.5" style="stroke-width:1.9"/>
<path class="t" d="M310.8 844.5 L326.2 843.5"/>
<path class="k" d="M309.5 848.1 L327 846.9" style="stroke-width:1.9"/>
<path class="t" d="M310.8 850.9 L326.2 849.9"/>
<path class="k" d="M309.5 854.5 L327 853.2" style="stroke-width:1.9"/>
<path class="t" d="M310.8 857.2 L326.2 856.2"/>
<path class="k" d="M313.8 858.8 L305 856.2 M305 856.2 L193.8 790.5"/>
<path class="k" d="M193.8 790.5 C192.8 789.7 189.3 787.7 188 785.5 C186.7 783.3 186.1 778.8 185.8 777.5"/>
<path class="k" d="M185.8 777.5 L185.8 705"/>
<path class="k" d="M185.8 705 C186.1 703.7 187 700.1 187.8 697.2 C188.6 694.3 189.1 690.8 190.8 687.6 C192.5 684.4 195.2 680.8 198 678 C200.8 675.2 206 672 207.6 670.8 L254.4 644.4"/>
<path class="k" d="M254.4 644.4 C255.6 643.6 259.2 640.7 261.6 639.6 C264 638.5 266.4 637.9 268.8 637.8 C271.2 637.7 274.2 638.4 276 639 C277.8 639.6 279 641 279.6 641.4"/>
<path class="k" d="M279.6 641.4 L279.6 648 L276 650.2"/>
<path class="h" d="M189.5 705 C189.5 716.9 189 763.1 189.5 776.2 C190 789.4 191.2 781.8 192.5 783.8 C193.8 785.7 196.7 787.3 197.5 788"/>
<path class="m" d="M279.6 641.4 L273 644.6 L276 646.8 L279.6 648"/>
<path class="t" d="M273 644.6 L264 643.2"/>
<path class="k" d="M276 650.2 L258 660.6"/>
<path class="m" d="M273 644.6 L224.6 676.2"/>
<path class="m" d="M276 646.8 L228.6 678.2"/>
<path class="t" d="M258 660.6 L229.2 680.4"/>
<path class="m" d="M256.8 669.6 L229.2 686.4"/>
<path class="t" d="M268.8 652.8 L247.2 665.4"/>
<path class="k w" d="M220.2 692.4 L220.2 678.2 L224.6 676.2 L228.6 678.2 L228.6 694.8"/>
<path class="t" d="M224.6 676.2 L224.6 693.6"/>
<path class="k" d="M249 669.6 L249 700.8"/>
<path class="k" d="M257.4 668.4 L257.4 699"/>
<path class="t" d="M251.4 668.4 L251.4 700.2"/>
<path class="m" d="M249 669.6 L250.8 667.2 L258 666 L259.2 669 L257.4 670.2"/>
<path class="k" d="M187.8 697.2 C188.7 696.3 190.9 693.9 193.2 691.8 C195.5 689.7 198.8 686.1 201.6 684.6 C204.4 683.1 207 682.5 210 682.8 C213 683.1 218 685.8 219.6 686.4"/>
<path class="m" d="M207.6 670.8 C208.6 671.2 211.8 672.3 213.6 673.2 C215.4 674.1 217.3 675.4 218.4 676.2 C219.5 677 219.9 677.9 220.2 678.2"/>
<path class="m" d="M193.2 692.4 L204 690.6 L232.8 709.2"/>
<path class="m" d="M219.6 686.4 L220.2 692.4 L240 703.8"/>
<path class="t" d="M228.6 694.8 L242.4 703.2"/>
<path class="k w" d="M241.2 707.4 C242.2 706.5 245 703.2 247.2 702 C249.4 700.8 251.8 699.9 254.4 700.2 C257 700.5 260.4 701.9 262.8 703.8 C265.2 705.7 267.4 708.9 268.8 711.6 C270.2 714.3 271.2 717.6 271.2 720 C271.2 722.4 271.2 723.4 268.8 726 C266.4 728.6 259.8 733.4 256.8 735.6 C253.8 737.8 251.8 738.6 250.8 739.2"/>
<ellipse class="k w" cx="243.6" cy="723" rx="11.6" ry="16.4" transform="rotate(-8 243.6 723)"/>
<ellipse class="k" cx="244.4" cy="723.6" rx="8.4" ry="12.4" transform="rotate(-8 244.4 723.6)"/>
<path class="m" d="M247.8 718.2 C248.5 718.7 251 719.7 252 721.2 C253 722.7 253.8 725.2 253.8 727.2 C253.8 729.2 252.9 732 252 733.2 C251.1 734.4 249.5 735.2 248.6 734.4 C247.7 733.6 246.7 731.1 246.6 728.4 C246.5 725.7 247.6 719.9 247.8 718.2"/>
<path class="k" d="M236.2 722.4 C236.4 721.1 236.2 716.4 237.4 714.6 C238.5 712.8 242.1 712.1 243 711.6" style="stroke-width:2.6"/>
<path class="m" d="M271.2 720 L293.8 730"/>
<path class="t" d="M268.2 726.6 L287.5 748.8"/>
<path class="k w" d="M293.8 730 L293.8 720.5 L302.5 720.5 L302.5 736.2"/>
<ellipse class="k w" cx="298.1" cy="720" rx="4.4" ry="2"/>
<path class="h" d="M298.8 722 L298.8 735"/>
<path class="k w" d="M292 750 C293.6 749.3 299 745.4 301.6 745.8 C304.2 746.2 306 749.7 307.6 752.4 C309.2 755.1 310.5 758.6 311.2 762 C311.9 765.4 313.6 770.5 311.8 772.8 C310 775.1 302.3 775.3 300.4 775.8"/>
<ellipse class="k w" cx="294.2" cy="762.6" rx="10" ry="12.8" transform="rotate(-12 294.2 762.6)"/>
<ellipse class="k" cx="293.4" cy="763.4" rx="6.8" ry="9.2" transform="rotate(-12 293.4 763.4)"/>
<path class="k" d="M287 758.4 C287.2 757.8 287.4 755.4 288.6 754.8 C289.9 754.2 293.4 754.8 294.4 754.8" style="stroke-width:2.6"/>
<path class="k" d="M299.8 772.8 C300.4 772.2 302.7 770.7 303.4 769.2 C304.1 767.7 303.9 764.7 304 763.8" style="stroke-width:2.2"/>
<path class="k" d="M302.5 736.2 L306.2 740 L307.6 735.6 L312.4 726"/>
<path class="t" d="M293.8 730 L296.2 737.5 L305 741.2"/>
<path class="k" d="M312.4 726 L366.4 697.8 L368.8 702 L376 699"/>
<path class="k" d="M376 699 C377.6 699.9 382.6 701.5 385.6 704.4 C388.6 707.3 391.7 711.6 394 716.4 C396.3 721.2 398.6 729.9 399.4 733.2 C400.1 736.5 398.6 735.7 398.5 736.2"/>
<path class="k" d="M398.5 736.2 L398.5 805"/>
<path class="k" d="M398.5 805 C398.1 806.8 398.1 812.5 396.2 815.5 C394.4 818.5 389 821.8 387.5 823"/>
<path class="k" d="M387.5 823 L330 855"/>
<path class="k" d="M330 855 C328.8 855.8 325.2 859.4 322.5 860 C319.8 860.6 315.2 859 313.8 858.8"/>
<path class="t" d="M315.4 729 L364 703.4"/>
<path class="t" d="M328 721.2 L352 708.6"/>
<path class="k" d="M328 774 L397 738.6"/>
<path class="m" d="M327.5 771.2 L327.5 852.5"/>
<path class="m" d="M370 703.2 C372 705 378.9 709.8 382 714 C385.1 718.2 387.3 723.6 388.6 728.4 C389.9 733.2 389.6 740.4 389.8 742.8"/>
<path class="h" d="M372.4 702 C374.4 703.7 381.3 708 384.4 712.2 C387.5 716.4 389.7 722.4 391 727.2 C392.3 732 392 738.7 392.2 741"/>
<path class="m" d="M389.8 742.8 L390 815"/>
<path class="h" d="M393.2 740 L394.2 816.2" stroke-dasharray="6 2"/>
<path class="t" d="M390 815 L389.5 822"/>
<path class="t" d="M390 815.5 L398.5 808.8"/>
<path class="m" d="M319.6 730.8 C320.6 732.4 324.2 736 325.6 740.4 C327 744.8 327.6 751.6 328 757.2 C328.4 762.8 328 771.2 328 774"/>
<path class="t" d="M316 733.2 C316.8 735.6 319.8 742.8 320.8 747.6 C321.8 752.4 322 758 322 762 C322 766 321 770 320.8 771.6"/>
<path class="t" d="M311.8 772.8 C312.5 772.4 314.1 770.6 316 770.4 C317.9 770.2 321.2 771 323.2 771.6 C325.2 772.2 327.2 773.6 328 774"/>
<path class="t" d="M305 856.2 C305.8 855.2 307.5 850.8 310 850 C312.5 849.2 316.7 850.4 320 851.2 C323.3 852.1 328.3 854.4 330 855"/>
<path class="t" d="M316.2 851.2 C316.9 851.9 319.6 853.6 320 855 C320.4 856.4 319 858.8 318.8 859.5"/>
<ellipse class="k w" cx="239.5" cy="786.8" rx="15" ry="20.5" transform="rotate(-14 239.5 786.8)"/>
<ellipse class="k" cx="241.2" cy="788" rx="11" ry="16" transform="rotate(-14 241.2 788)"/>
<path class="k" d="M228 795 C227.7 792.5 225.3 784.2 226.2 780 C227.2 775.8 231 772 233.8 770 C236.5 768 241 768.3 242.5 768" style="stroke-width:2.6"/>
<path class="t" d="M245 776.2 C246 777.9 250.2 782.3 251.2 786.2 C252.3 790.2 251.2 797.7 251.2 800"/>
<path class="k w" d="M263 785 L264 816.2 L289.5 830.5 L288 797.5Z"/>
<path class="m" d="M266.2 791.2 L267 813.8 L275 818 L274.5 795Z"/>
<path class="k" d="M270 795 L270.5 802.5 L268.8 805 L269.2 813.8"/>
<path class="m" d="M272.5 796.2 L273 816.2"/>
<path class="k" d="M278 806.2 L278.5 818.8 L285.5 822.5 L285 810Z"/>
<path class="m" d="M280 810.5 L280.2 817 L283.8 819 L283.5 812.5Z"/>
</g>
<g transform="matrix(1.027 0 0 1 538.98 31.25)"><path class="w" d="M313.8 858.8 L192.5 790 L186.5 782.5 L185.8 777.5 L185.8 705 L187.8 697.2 L190.8 687.6 L198 678 L207.6 670.8 L254.4 644.4 L261.6 639.6 L268.8 637.8 L276 639 L279.6 641.4 L279.6 648 L258 661.2 L257.4 697.2 L270 715 L293.8 730 L293.8 719.5 L302.5 719.5 L303 735 L312.4 726 L366.4 697.8 L368.8 702 L376 699 L385.6 704.4 L394 716.4 L399.4 733.2 L398.5 735 L398.5 805 L395 816.2 L387.5 823 L330 855 L321.2 860Z"/>
<path class="k" d="M186.5 704.5 L309.2 772.6" style="stroke-width:1.9"/>
<path class="t" d="M191.5 710 L309.2 775.1"/>
<path class="k" d="M186.5 710.8 L309.2 779.4" style="stroke-width:1.9"/>
<path class="t" d="M197.8 719.8 L309.2 781.9"/>
<path class="k" d="M186.5 717 L309.2 786.1" style="stroke-width:1.9"/>
<path class="t" d="M204 729.6 L309.2 788.6"/>
<path class="k" d="M186.5 723.2 L309.2 792.8" style="stroke-width:1.9"/>
<path class="t" d="M191.5 728.8 L309.2 795.3"/>
<path class="k" d="M186.5 729.5 L309.2 799.6" style="stroke-width:1.9"/>
<path class="t" d="M197.8 738.7 L309.2 802.1"/>
<path class="k" d="M186.5 735.8 L309.2 806.3" style="stroke-width:1.9"/>
<path class="t" d="M204 748.6 L309.2 808.8"/>
<path class="k" d="M186.5 742 L309.2 813.1" style="stroke-width:1.9"/>
<path class="t" d="M191.5 747.6 L309.2 815.6"/>
<path class="k" d="M186.5 748.2 L309.2 819.8" style="stroke-width:1.9"/>
<path class="t" d="M197.8 757.6 L309.2 822.3"/>
<path class="k" d="M186.5 754.5 L309.2 826.6" style="stroke-width:1.9"/>
<path class="t" d="M204 767.5 L309.2 829.1"/>
<path class="k" d="M186.5 760.8 L309.2 833.3" style="stroke-width:1.9"/>
<path class="t" d="M191.5 766.5 L309.2 835.8"/>
<path class="k" d="M186.5 767 L309.2 840" style="stroke-width:1.9"/>
<path class="t" d="M197.8 776.4 L309.2 842.5"/>
<path class="k" d="M186.5 773.2 L309.2 846.8" style="stroke-width:1.9"/>
<path class="t" d="M204 786.5 L309.2 849.3"/>
<path class="k" d="M186.5 779.5 L305.5 851.2" style="stroke-width:1.9"/>
<path class="t" d="M191.5 785.3 L305.5 853.8"/>
<path class="t" d="M309.2 777.5 L309.2 851.2"/>
<path class="k" d="M309.5 778 L327 776.8" style="stroke-width:1.9"/>
<path class="t" d="M310.8 780.8 L326.2 779.8"/>
<path class="k" d="M309.5 784.4 L327 783.1" style="stroke-width:1.9"/>
<path class="t" d="M310.8 787.1 L326.2 786.1"/>
<path class="k" d="M309.5 790.8 L327 789.5" style="stroke-width:1.9"/>
<path class="t" d="M310.8 793.5 L326.2 792.5"/>
<path class="k" d="M309.5 797.1 L327 795.9" style="stroke-width:1.9"/>
<path class="t" d="M310.8 799.9 L326.2 798.9"/>
<path class="k" d="M309.5 803.5 L327 802.2" style="stroke-width:1.9"/>
<path class="t" d="M310.8 806.2 L326.2 805.2"/>
<path class="k" d="M309.5 809.9 L327 808.6" style="stroke-width:1.9"/>
<path class="t" d="M310.8 812.6 L326.2 811.6"/>
<path class="k" d="M309.5 816.2 L327 815" style="stroke-width:1.9"/>
<path class="t" d="M310.8 819 L326.2 818"/>
<path class="k" d="M309.5 822.6 L327 821.4" style="stroke-width:1.9"/>
<path class="t" d="M310.8 825.4 L326.2 824.4"/>
<path class="k" d="M309.5 829 L327 827.8" style="stroke-width:1.9"/>
<path class="t" d="M310.8 831.8 L326.2 830.8"/>
<path class="k" d="M309.5 835.4 L327 834.1" style="stroke-width:1.9"/>
<path class="t" d="M310.8 838.1 L326.2 837.1"/>
<path class="k" d="M309.5 841.8 L327 840.5" style="stroke-width:1.9"/>
<path class="t" d="M310.8 844.5 L326.2 843.5"/>
<path class="k" d="M309.5 848.1 L327 846.9" style="stroke-width:1.9"/>
<path class="t" d="M310.8 850.9 L326.2 849.9"/>
<path class="k" d="M309.5 854.5 L327 853.2" style="stroke-width:1.9"/>
<path class="t" d="M310.8 857.2 L326.2 856.2"/>
<path class="k" d="M313.8 858.8 L305 856.2 M305 856.2 L193.8 790.5"/>
<path class="k" d="M193.8 790.5 C192.8 789.7 189.3 787.7 188 785.5 C186.7 783.3 186.1 778.8 185.8 777.5"/>
<path class="k" d="M185.8 777.5 L185.8 705"/>
<path class="k" d="M185.8 705 C186.1 703.7 187 700.1 187.8 697.2 C188.6 694.3 189.1 690.8 190.8 687.6 C192.5 684.4 195.2 680.8 198 678 C200.8 675.2 206 672 207.6 670.8 L254.4 644.4"/>
<path class="k" d="M254.4 644.4 C255.6 643.6 259.2 640.7 261.6 639.6 C264 638.5 266.4 637.9 268.8 637.8 C271.2 637.7 274.2 638.4 276 639 C277.8 639.6 279 641 279.6 641.4"/>
<path class="k" d="M279.6 641.4 L279.6 648 L276 650.2"/>
<path class="h" d="M189.5 705 C189.5 716.9 189 763.1 189.5 776.2 C190 789.4 191.2 781.8 192.5 783.8 C193.8 785.7 196.7 787.3 197.5 788"/>
<path class="m" d="M279.6 641.4 L273 644.6 L276 646.8 L279.6 648"/>
<path class="t" d="M273 644.6 L264 643.2"/>
<path class="k" d="M276 650.2 L258 660.6"/>
<path class="m" d="M273 644.6 L224.6 676.2"/>
<path class="m" d="M276 646.8 L228.6 678.2"/>
<path class="t" d="M258 660.6 L229.2 680.4"/>
<path class="m" d="M256.8 669.6 L229.2 686.4"/>
<path class="t" d="M268.8 652.8 L247.2 665.4"/>
<path class="k w" d="M220.2 692.4 L220.2 678.2 L224.6 676.2 L228.6 678.2 L228.6 694.8"/>
<path class="t" d="M224.6 676.2 L224.6 693.6"/>
<path class="k" d="M249 669.6 L249 700.8"/>
<path class="k" d="M257.4 668.4 L257.4 699"/>
<path class="t" d="M251.4 668.4 L251.4 700.2"/>
<path class="m" d="M249 669.6 L250.8 667.2 L258 666 L259.2 669 L257.4 670.2"/>
<path class="k" d="M187.8 697.2 C188.7 696.3 190.9 693.9 193.2 691.8 C195.5 689.7 198.8 686.1 201.6 684.6 C204.4 683.1 207 682.5 210 682.8 C213 683.1 218 685.8 219.6 686.4"/>
<path class="m" d="M207.6 670.8 C208.6 671.2 211.8 672.3 213.6 673.2 C215.4 674.1 217.3 675.4 218.4 676.2 C219.5 677 219.9 677.9 220.2 678.2"/>
<path class="m" d="M193.2 692.4 L204 690.6 L232.8 709.2"/>
<path class="m" d="M219.6 686.4 L220.2 692.4 L240 703.8"/>
<path class="t" d="M228.6 694.8 L242.4 703.2"/>
<path class="k w" d="M241.2 707.4 C242.2 706.5 245 703.2 247.2 702 C249.4 700.8 251.8 699.9 254.4 700.2 C257 700.5 260.4 701.9 262.8 703.8 C265.2 705.7 267.4 708.9 268.8 711.6 C270.2 714.3 271.2 717.6 271.2 720 C271.2 722.4 271.2 723.4 268.8 726 C266.4 728.6 259.8 733.4 256.8 735.6 C253.8 737.8 251.8 738.6 250.8 739.2"/>
<ellipse class="k w" cx="243.6" cy="723" rx="11.6" ry="16.4" transform="rotate(-8 243.6 723)"/>
<ellipse class="k" cx="244.4" cy="723.6" rx="8.4" ry="12.4" transform="rotate(-8 244.4 723.6)"/>
<path class="m" d="M247.8 718.2 C248.5 718.7 251 719.7 252 721.2 C253 722.7 253.8 725.2 253.8 727.2 C253.8 729.2 252.9 732 252 733.2 C251.1 734.4 249.5 735.2 248.6 734.4 C247.7 733.6 246.7 731.1 246.6 728.4 C246.5 725.7 247.6 719.9 247.8 718.2"/>
<path class="k" d="M236.2 722.4 C236.4 721.1 236.2 716.4 237.4 714.6 C238.5 712.8 242.1 712.1 243 711.6" style="stroke-width:2.6"/>
<path class="m" d="M271.2 720 L293.8 730"/>
<path class="t" d="M268.2 726.6 L287.5 748.8"/>
<path class="k w" d="M293.8 730 L293.8 720.5 L302.5 720.5 L302.5 736.2"/>
<ellipse class="k w" cx="298.1" cy="720" rx="4.4" ry="2"/>
<path class="h" d="M298.8 722 L298.8 735"/>
<path class="k w" d="M292 750 C293.6 749.3 299 745.4 301.6 745.8 C304.2 746.2 306 749.7 307.6 752.4 C309.2 755.1 310.5 758.6 311.2 762 C311.9 765.4 313.6 770.5 311.8 772.8 C310 775.1 302.3 775.3 300.4 775.8"/>
<ellipse class="k w" cx="294.2" cy="762.6" rx="10" ry="12.8" transform="rotate(-12 294.2 762.6)"/>
<ellipse class="k" cx="293.4" cy="763.4" rx="6.8" ry="9.2" transform="rotate(-12 293.4 763.4)"/>
<path class="k" d="M287 758.4 C287.2 757.8 287.4 755.4 288.6 754.8 C289.9 754.2 293.4 754.8 294.4 754.8" style="stroke-width:2.6"/>
<path class="k" d="M299.8 772.8 C300.4 772.2 302.7 770.7 303.4 769.2 C304.1 767.7 303.9 764.7 304 763.8" style="stroke-width:2.2"/>
<path class="k" d="M302.5 736.2 L306.2 740 L307.6 735.6 L312.4 726"/>
<path class="t" d="M293.8 730 L296.2 737.5 L305 741.2"/>
<path class="k" d="M312.4 726 L366.4 697.8 L368.8 702 L376 699"/>
<path class="k" d="M376 699 C377.6 699.9 382.6 701.5 385.6 704.4 C388.6 707.3 391.7 711.6 394 716.4 C396.3 721.2 398.6 729.9 399.4 733.2 C400.1 736.5 398.6 735.7 398.5 736.2"/>
<path class="k" d="M398.5 736.2 L398.5 805"/>
<path class="k" d="M398.5 805 C398.1 806.8 398.1 812.5 396.2 815.5 C394.4 818.5 389 821.8 387.5 823"/>
<path class="k" d="M387.5 823 L330 855"/>
<path class="k" d="M330 855 C328.8 855.8 325.2 859.4 322.5 860 C319.8 860.6 315.2 859 313.8 858.8"/>
<path class="t" d="M315.4 729 L364 703.4"/>
<path class="t" d="M328 721.2 L352 708.6"/>
<path class="k" d="M328 774 L397 738.6"/>
<path class="m" d="M327.5 771.2 L327.5 852.5"/>
<path class="m" d="M370 703.2 C372 705 378.9 709.8 382 714 C385.1 718.2 387.3 723.6 388.6 728.4 C389.9 733.2 389.6 740.4 389.8 742.8"/>
<path class="h" d="M372.4 702 C374.4 703.7 381.3 708 384.4 712.2 C387.5 716.4 389.7 722.4 391 727.2 C392.3 732 392 738.7 392.2 741"/>
<path class="m" d="M389.8 742.8 L390 815"/>
<path class="h" d="M393.2 740 L394.2 816.2" stroke-dasharray="6 2"/>
<path class="t" d="M390 815 L389.5 822"/>
<path class="t" d="M390 815.5 L398.5 808.8"/>
<path class="m" d="M319.6 730.8 C320.6 732.4 324.2 736 325.6 740.4 C327 744.8 327.6 751.6 328 757.2 C328.4 762.8 328 771.2 328 774"/>
<path class="t" d="M316 733.2 C316.8 735.6 319.8 742.8 320.8 747.6 C321.8 752.4 322 758 322 762 C322 766 321 770 320.8 771.6"/>
<path class="t" d="M311.8 772.8 C312.5 772.4 314.1 770.6 316 770.4 C317.9 770.2 321.2 771 323.2 771.6 C325.2 772.2 327.2 773.6 328 774"/>
<path class="t" d="M305 856.2 C305.8 855.2 307.5 850.8 310 850 C312.5 849.2 316.7 850.4 320 851.2 C323.3 852.1 328.3 854.4 330 855"/>
<path class="t" d="M316.2 851.2 C316.9 851.9 319.6 853.6 320 855 C320.4 856.4 319 858.8 318.8 859.5"/>
<ellipse class="k w" cx="239.5" cy="786.8" rx="15" ry="20.5" transform="rotate(-14 239.5 786.8)"/>
<ellipse class="k" cx="241.2" cy="788" rx="11" ry="16" transform="rotate(-14 241.2 788)"/>
<path class="k" d="M228 795 C227.7 792.5 225.3 784.2 226.2 780 C227.2 775.8 231 772 233.8 770 C236.5 768 241 768.3 242.5 768" style="stroke-width:2.6"/>
<path class="t" d="M245 776.2 C246 777.9 250.2 782.3 251.2 786.2 C252.3 790.2 251.2 797.7 251.2 800"/>
<path class="k w" d="M263 785 L264 816.2 L289.5 830.5 L288 797.5Z"/>
<path class="m" d="M266.2 791.2 L267 813.8 L275 818 L274.5 795Z"/>
<path class="k" d="M270 795 L270.5 802.5 L268.8 805 L269.2 813.8"/>
<path class="m" d="M272.5 796.2 L273 816.2"/>
<path class="k" d="M278 806.2 L278.5 818.8 L285.5 822.5 L285 810Z"/>
<path class="m" d="M280 810.5 L280.2 817 L283.8 819 L283.5 812.5Z"/>
</g>
</g>
<g id="rod41">
<path class="k" d="M824.8 729.8 L945.3 662.8"/>
<path class="k" d="M822.2 725.2 L942.7 658.2"/>
<ellipse class="k w" cx="823.5" cy="727.5" rx="1.7" ry="2.7" transform="rotate(-29.1 823.5 727.5)"/>
<path class="k" d="M945.3 662.8 C945.3 662.2 946.2 660.3 945.7 659.5 C945.3 658.8 943.2 658.4 942.7 658.2"/>
</g>
<g id="conn">
<path class="k w" d="M1.6 848.8 L30.4 833.6 L39.2 848 L9.9 864.3 M9.9 864.3 C9.1 864 6.2 863.9 4.8 862.4 C3.4 860.9 1.8 857.5 1.3 855.2 C0.7 852.9 1.5 849.9 1.6 848.8"/>
<ellipse class="m" cx="7.7" cy="860.3" rx="2.2" ry="3" transform="rotate(-30 7.7 860.3)"/>
<path class="m" d="M4 855.2 C4.4 856.3 5.3 860.1 6.4 861.6 C7.5 863.1 9.7 863.6 10.4 864"/>
<path class="k" d="M30.4 833.6 C30.3 832.7 28.9 829.3 29.6 828 C30.3 826.7 33.6 826.4 34.4 826.1"/>
<path class="k" d="M39.2 848 C39.7 848.8 40.9 851.5 41.9 852.8 C42.9 854.1 44.6 855.1 45.1 855.5"/>
<path class="w" d="M30.4 833.6 L34.4 826.1 L45.1 855.5 L39.2 848Z"/>
<path class="m" d="M30.4 833.6 C31.3 834.5 34.5 836.8 36 839.2 C37.5 841.6 38.7 846.5 39.2 848"/>
<path class="k w" d="M34.4 826.1 C36.4 824.4 43.1 817.8 46.4 816 C49.7 814.2 51.9 813.5 54.4 815.5 C56.9 817.5 60.1 823.8 61.6 828 C63.1 832.2 63.3 836.9 63.2 840.8 C63.1 844.7 63.8 848.7 60.8 851.2 C57.8 853.7 47.7 854.8 45.1 855.5"/>
<path class="m" d="M46.4 816 C47.6 817.7 51.9 822.5 53.6 826.4 C55.3 830.3 56.1 834.9 56.3 839.2 C56.6 843.5 55.4 849.9 55.2 852"/>
<path class="t" d="M35.5 826.7 L47.2 817.1"/>
<path class="t" d="M37.3 828.7 L48.6 819.6"/>
<path class="t" d="M38.9 830.7 L50 822.2"/>
<path class="t" d="M40.5 832.8 L51.3 824.8"/>
<path class="t" d="M41.8 834.9 L52.5 827.4"/>
<path class="t" d="M43 837.1 L53.4 830.2"/>
<path class="t" d="M43.9 839.4 L54.2 833"/>
<path class="t" d="M44.6 841.7 L54.9 835.8"/>
<path class="t" d="M45 844.1 L55.3 838.8"/>
<path class="t" d="M45.3 846.6 L55.5 841.8"/>
<path class="t" d="M45.3 849.2 L55.7 844.9"/>
<path class="t" d="M45.3 851.8 L55.7 848"/>
<path class="t" d="M45.1 854.4 L55.7 851.2"/>
<path class="k w" d="M48 813.9 L68.8 800.8 M68.8 800.8 C70.7 801.3 76.9 802.1 80 804 C83.1 805.9 85.3 808.8 87.2 812 C89.1 815.2 90.9 819.6 91.2 823.2 C91.5 826.8 90.3 830.9 89.3 833.6 C88.2 836.3 85.5 838.5 84.8 839.5 M84.8 839.5 L61.6 850.4"/>
<path class="k" d="M54.4 815.5 C55.6 817.6 60.1 823.8 61.6 828 C63.1 832.2 63.2 837.1 63.2 840.8 C63.2 844.5 61.9 848.8 61.6 850.4"/>
<path class="m" d="M60 811.2 C61 813.2 64.6 819.1 65.9 823.2 C67.3 827.3 67.9 832 68 836 C68.1 840 66.7 845.3 66.4 847.2"/>
<path class="h" d="M62.1 810.4 C63.1 812.4 66.7 818.3 68 822.4 C69.3 826.5 69.9 831.2 70.1 835.2 C70.2 839.2 69 844.5 68.8 846.4"/>
<ellipse class="k" cx="64.8" cy="808.3" rx="4.6" ry="5.2"/>
<path class="k" d="M80 812 C78.9 812 75.2 810.9 73.6 812 C72 813.1 70.1 816.4 70.4 818.4 C70.7 820.4 73.3 823.3 75.2 824 C77.1 824.7 80.5 822.7 81.6 822.4"/>
<path class="m" d="M82.4 814.4 C82.8 815.1 84.7 817.1 84.8 818.4 C84.9 819.7 83.5 821.3 83.2 821.9"/>
<ellipse class="k" cx="81.9" cy="831.5" rx="4.6" ry="5.4"/>
<path class="k w" d="M105.6 850.4 L128 840.8 M128 840.8 C129.7 841.2 134.9 841.6 137.9 843.2 C140.9 844.8 143.8 847.3 145.9 850.4 C148 853.5 149.8 857.8 150.4 861.6 C151 865.4 150.7 869.9 149.6 873.1 C148.5 876.4 145.7 879.3 144 881.1 C142.3 883 140 883.8 139.2 884.3 M139.2 884.3 L121.6 892.3"/>
<ellipse class="k" cx="124" cy="848.8" rx="4.6" ry="5"/>
<path class="k" d="M140.8 852 C139.7 852.1 135.8 851.2 134.1 852.3 C132.3 853.4 130.2 856.6 130.4 858.7 C130.6 860.8 133.3 864.1 135.2 864.8 C137.1 865.5 140.5 863.5 141.6 863.2"/>
<path class="m" d="M142.7 854.9 C143.1 855.6 144.7 857.9 144.8 859.2 C144.9 860.5 143.5 862.3 143.2 862.9"/>
<ellipse class="k" cx="140.8" cy="873.6" rx="4.6" ry="5.4"/>
<path class="k w" d="M94.4 859.2 C97.3 858 107.5 851.9 112 852 C116.5 852.1 119.2 856.5 121.6 860 C124 863.5 125.9 868.5 126.4 872.8 C126.9 877.1 125.6 882.3 124.8 885.6 C124 888.9 125.3 890.1 121.6 892.3 C117.9 894.6 105.6 898.1 102.4 899.2"/>
<path class="m" d="M112 852 C113.2 853.9 117.6 859.2 119.2 863.2 C120.8 867.2 121.6 871.5 121.6 876 C121.6 880.5 119.6 888 119.2 890.4"/>
<path class="m" d="M118.4 848.8 C119.7 850.7 124.6 855.7 126.4 860 C128.2 864.3 129.1 869.6 129.3 874.4 C129.4 879.2 127.5 886.4 127.2 888.8"/>
<path class="t" d="M99.2 858.4 L112.8 853.3"/>
<path class="t" d="M101 861.4 L114.3 856.1"/>
<path class="t" d="M102.7 864.3 L115.7 858.9"/>
<path class="t" d="M104.2 867.4 L117.1 861.7"/>
<path class="t" d="M105.5 870.4 L118.2 864.6"/>
<path class="t" d="M106.5 873.6 L119.1 867.6"/>
<path class="t" d="M107.2 876.8 L119.8 870.6"/>
<path class="t" d="M107.6 880.1 L120.3 873.8"/>
<path class="t" d="M107.6 883.5 L120.5 877"/>
<path class="t" d="M107.4 887 L120.5 880.3"/>
<path class="t" d="M106.9 890.5 L120.3 883.6"/>
<path class="t" d="M106.3 894 L120 887"/>
<path class="t" d="M105.6 897.6 L119.7 890.4"/>
<ellipse class="k w" cx="94.4" cy="878.4" rx="12.6" ry="20.4" transform="rotate(-12 94.4 878.4)" style="stroke-width:2.6"/>
<ellipse class="k" cx="94.7" cy="878.7" rx="8.6" ry="14.6" transform="rotate(-12 94.7 878.7)" style="stroke-width:2.6"/>
<path class="m" d="M89.6 869.6 C90 871.2 90.9 875.7 92 879.2 C93.1 882.7 95.3 888.5 96 890.4"/>
<path class="m" d="M92 867.2 C92.7 868.7 94.7 872.9 96 876 C97.3 879.1 99.3 884 100 885.6"/>
<ellipse class="m" cx="97.6" cy="880" rx="3" ry="4.4" transform="rotate(-12 97.6 880)"/>
<path class="k" d="M87.2 882.4 C87.9 883.7 89.3 888.7 91.2 890.4 C93.1 892.1 97.2 892.4 98.4 892.8" style="stroke-width:3.2"/>
<ellipse class="k w" cx="71.2" cy="892.5" rx="11.6" ry="13.8" transform="rotate(-35 71.2 892.5)" style="stroke-width:2.6"/>
<ellipse class="k" cx="71.2" cy="893.9" rx="6.4" ry="8.4" transform="rotate(-35 71.2 893.9)" style="stroke-width:2.8"/>
<path class="m" d="M64 892 C64.5 893.1 65.6 896.5 67.2 898.4 C68.8 900.3 72.5 902.4 73.6 903.2"/>
<ellipse class="k w" cx="167.2" cy="766.8" rx="11.4" ry="16" transform="rotate(-28 167.2 766.8)" style="stroke-width:2.6"/>
<ellipse class="k" cx="167.8" cy="767.4" rx="6.2" ry="9.2" transform="rotate(-28 167.8 767.4)" style="stroke-width:2.8"/>
<path class="m" d="M161 766 C161.3 767 161.5 770.3 162.8 772 C164.1 773.7 167.8 775.5 168.8 776.2"/>
<ellipse class="k" cx="99.4" cy="805.2" rx="5.6" ry="8.6" transform="rotate(-22 99.4 805.2)" style="stroke-width:2.9"/>
<path class="k w" d="M132.8 763.6 C134.6 763.8 140.4 763.2 143.6 764.6 C146.8 766 150 769 152 772 C154 775 155.6 779 155.8 782.8 C156 786.6 154.6 791.8 153.2 794.8 C151.8 797.8 150 799.7 147.2 801 C144.4 802.4 138.2 802.5 136.4 802.8"/>
<path class="t" d="M138 764.1 L146.6 764.2"/>
<path class="t" d="M139.6 765 L148.5 765.2"/>
<path class="t" d="M141.1 766.6 L150.3 766.7"/>
<path class="t" d="M142.4 768.7 L151.8 768.7"/>
<path class="t" d="M143.6 771.4 L153.1 771.3"/>
<path class="t" d="M144.4 774.5 L154.2 774.2"/>
<path class="t" d="M145.1 777.8 L154.9 777.4"/>
<path class="t" d="M145.4 781.4 L155.3 780.8"/>
<path class="t" d="M145.4 785 L155.3 784.3"/>
<path class="t" d="M145.1 788.5 L154.9 787.7"/>
<path class="t" d="M144.4 791.9 L154.2 790.9"/>
<path class="t" d="M143.6 794.9 L153.1 793.8"/>
<path class="t" d="M142.4 797.6 L151.8 796.4"/>
<path class="t" d="M141.1 799.7 L150.3 798.4"/>
<path class="t" d="M139.6 801.3 L148.5 800"/>
<path class="t" d="M138 802.3 L146.6 800.9"/>
<ellipse class="k w" cx="133.4" cy="783.2" rx="13.6" ry="19.6" transform="rotate(-10 133.4 783.2)"/>
<ellipse class="m" cx="134" cy="783.6" rx="10.2" ry="15.2" transform="rotate(-10 134 783.6)"/>
<path class="k w" d="M129.8 782.8 C128 783.4 118.4 786.3 116 787.4 C113.6 788.4 112.3 789.4 111.4 790.6 C110.6 791.8 109.7 794.5 109.8 796 C109.9 797.5 111.1 800.8 112.2 802 C113.2 803.2 114.7 804.9 117.4 804.6 C120.2 804.4 130.8 800.8 132.8 800.2"/>
<ellipse class="m" cx="114.8" cy="796.8" rx="4.4" ry="7.2" transform="rotate(-18 114.8 796.8)"/>
<ellipse class="m" cx="114.6" cy="794.2" rx="1.4" ry="1.8"/>
<path class="k" d="M119.6 786.2 C120.2 787.2 122.6 789.6 123 792.4 C123.4 795.2 122.2 801.2 122 803"/>
<path class="m" d="M122.2 785.2 C122.8 786.3 125.2 789 125.6 791.8 C126 794.6 125 800.3 124.9 802"/>
<path class="k" d="M126.2 784 C126.7 785.2 129 788.3 129.4 791.2 C129.8 794.1 128.7 799.6 128.6 801.3"/>
<path class="k" d="M130.4 791.8 C130.8 792.8 131.7 796.9 132.8 797.8 C133.9 798.7 136.3 797.3 137 797.2" style="stroke-width:3.6"/>
<path class="k w" d="M227 836L228 849A8.6 4.2 0 0 0 245.2 849L246.2 836.5"/>
<ellipse class="k w" cx="236.5" cy="835.8" rx="9.8" ry="4.4"/>
<ellipse class="m" cx="238" cy="835.5" rx="1.6" ry="1"/>
<path class="k" d="M231.2 852 C232.3 852.2 235.3 853.6 237.5 853.2 C239.7 852.9 243.3 850.5 244.5 850" style="stroke-width:2.6"/>
<path class="k" d="M233 856.2 L233 865"/>
<path class="k" d="M240 856.2 L240 865"/>
<ellipse class="k w" cx="236.5" cy="856.2" rx="3.4" ry="1.6"/>
<path class="k w" d="M230.5 866.2 L230.8 872 M230.8 872 C231.7 872.5 234.5 875 236.5 875 C238.5 875 241.5 872.5 242.5 872 M242.5 872 L242.5 866.2"/>
<ellipse class="k w" cx="236.5" cy="866" rx="6" ry="3"/>
<path class="t" d="M233 858 L240 858.8"/>
<path class="t" d="M233 860.2 L240 861"/>
<path class="t" d="M233 862.5 L240 863.2"/>
<path class="k w" d="M278.5 873 L278.5 865 M278.5 865 C279 864.6 280.5 862.8 281.5 862.8 C282.5 862.8 284 864.6 284.5 865 M284.5 865 L284.5 873"/>
<path class="k w" d="M275 873.5 L275.5 878.5 M275.5 878.5 C276.4 878.9 279.1 880.8 281 880.8 C282.9 880.8 285.8 878.9 286.8 878.5 M286.8 878.5 L287.5 873.5"/>
<ellipse class="k w" cx="281.2" cy="873.2" rx="6.2" ry="2.6"/>
<path class="t" d="M282.5 866 L282.5 872"/>
<path class="k w" d="M445.5 755 L457.5 748 M457.5 748 C458.1 748.3 460.8 748.8 461.2 750 C461.8 751.2 460.6 754.2 460.5 755 M460.5 755 L450 761.2"/>
<path class="m" d="M448 753.8 L450.2 759.8"/>
<path class="m" d="M451.3 751.9 L453.5 757.9"/>
<path class="m" d="M454.7 750.1 L456.9 756.1"/>
<path class="m" d="M458 748.2 L460.2 754.2"/>
<path class="k w" d="M411.2 766.2 L438.8 756.2 L447 755 L451.2 761.2 L445 770 L417.5 785Z"/>
<path class="m" d="M438.8 756.2 C439.6 757.3 442.7 760.2 443.8 762.5 C444.8 764.8 444.8 768.8 445 770"/>
<path class="k" d="M420 763 C421 764.4 425 768.4 426.2 771.2 C427.5 774.1 427.3 778.5 427.5 780"/>
<path class="k" d="M430 759.5 C431 760.8 435.1 764.8 436.2 767.5 C437.4 770.2 436.9 774.2 437 775.5"/>
<path class="k" d="M422.5 767.5 L428.8 765 L431.2 771.2 L425 774.2Z" style="stroke-width:2.6"/>
<path class="k" d="M432.5 762.5 L438.8 760 L441 766.2 L435 769.2Z" style="stroke-width:2.6"/>
<path class="k" d="M417.5 785 L445 770" style="stroke-width:3.2"/>
<path class="k w" d="M411.2 766.2 C410.4 766.9 407.2 767.9 406.2 770 C405.3 772.1 405.1 776.2 405.8 778.8 C406.4 781.2 408 783.9 410 785 C412 786.1 416.2 785.4 417.5 785.5"/>
<ellipse class="k w" cx="412" cy="775.5" rx="4.4" ry="8" transform="rotate(-18 412 775.5)"/>
<ellipse class="k" cx="411.5" cy="776" rx="2.4" ry="4.6" transform="rotate(-18 411.5 776)"/>
<path class="k" d="M407 780 C407.7 780.9 409.5 784.6 411.2 785.5 C413 786.4 416.5 785.5 417.5 785.5" style="stroke-width:3.2"/>
</g>
<g id="feet">
<path class="k w" d="M132.4 404 C134.5 404.3 136.2 405.5 139 406.6 C141.8 407.8 146.5 409.6 149.2 411 C151.9 412.3 153.9 413.3 155.4 414.8 C157 416.3 157.8 418.2 158.3 419.8 C158.8 421.5 159 422.9 158.3 424.6 C157.6 426.4 155.9 427.4 154 430.4 C152.1 433.4 149.2 439.8 146.8 442.4 C144.4 445 142.4 445.5 139.6 445.8 C136.8 446.1 132.8 444.9 130 444.2 C127.2 443.5 124.6 443.1 122.8 441.4 C121 439.8 119.8 436.9 119.2 434.2 C118.6 431.6 118.6 428.6 119.2 425.6 C119.8 422.6 122.2 418.8 122.6 416 C123 413.2 121 410.7 121.6 408.8 C122.2 406.9 124.6 405.5 126.4 404.7 C128.2 403.9 130.3 403.7 132.4 404Z"/>
<path class="m" d="M126.4 404.7 C125.6 405.4 122.1 407.5 121.6 408.8 C121.1 410.1 122.6 411.9 123.4 412.4 C124.2 412.9 125.9 411.9 126.4 411.8"/>
<path class="k" d="M138.4 407 C137.9 408.3 136.5 411.9 135.4 414.8 C134.3 417.7 132.5 421.3 131.8 424.4 C131.1 427.5 130.9 430.7 131 433.4 C131.1 436.1 132.6 438.8 132.4 440.6 C132.2 442.4 130.4 443.6 130 444.2"/>
<path class="m" d="M142 414.8 C141.2 415.6 138.8 417.4 137.4 419.6 C136.1 421.8 134.6 425.2 133.8 428 C133.1 430.8 132.8 433.8 133.1 436.4 C133.4 439 134.4 442.1 135.5 443.6 C136.6 445.1 139.1 445.3 139.8 445.6"/>
<path class="k" d="M141.8 416 C142.8 415.9 146 414.8 148 415.2 C150 415.5 152.6 416.8 154 418.2 C155.4 419.5 156.2 422.6 156.6 423.4" style="stroke-width:3.4"/>
<path class="m" d="M135.4 437.6 C135.7 438.4 136.1 441.3 137.2 442.4 C138.3 443.5 140.5 444.4 142 444.2 C143.5 444 145.5 441.7 146.2 441.2"/>
<path class="k w" d="M137.2 428 L146.8 422 L168.6 431.6 L169.1 442.4 L159 448.6 L137.2 437.8Z"/>
<path class="m" d="M137.2 428 L159 437.6 L168.6 431.8"/>
<path class="m" d="M159 437.6 L159 448.6"/>
<path class="t" d="M159 437.6 L164.8 440.6 L169.1 442.4"/>
<path class="t" d="M164.8 440.6 L164.8 445.4"/>
<path class="k" d="M119.4 434.6 C120 435.7 121 439.6 122.8 441.2 C124.6 442.8 128.8 443.5 130 444" style="stroke-width:3.4"/>
<path class="k w" d="M134.1 669.5 C136.3 669.8 138 671 140.9 672.2 C143.8 673.4 148.6 675.3 151.4 676.7 C154.2 678.1 156.3 679.1 157.8 680.6 C159.4 682.1 160.3 684.1 160.8 685.8 C161.3 687.5 161.5 688.9 160.8 690.8 C160.1 692.6 158.3 693.6 156.3 696.7 C154.4 699.7 151.4 706.4 148.9 709.1 C146.5 711.7 144.4 712.2 141.5 712.5 C138.6 712.8 134.5 711.6 131.6 710.9 C128.7 710.2 126.1 709.8 124.2 708.1 C122.4 706.4 121.1 703.4 120.5 700.6 C119.9 697.9 119.9 694.9 120.5 691.7 C121.1 688.6 123.5 684.7 124 681.9 C124.4 679 122.3 676.4 123 674.4 C123.6 672.5 126.1 671.1 127.9 670.2 C129.8 669.4 131.9 669.2 134.1 669.5Z"/>
<path class="m" d="M127.9 670.2 C127.1 670.9 123.5 673.1 123 674.4 C122.5 675.8 124 677.6 124.8 678.2 C125.6 678.7 127.4 677.6 127.9 677.5"/>
<path class="k" d="M140.3 672.6 C139.8 673.9 138.3 677.6 137.2 680.6 C136.1 683.6 134.2 687.3 133.5 690.5 C132.7 693.7 132.5 697 132.6 699.8 C132.7 702.6 134.3 705.3 134.1 707.2 C133.9 709.1 132 710.3 131.6 710.9"/>
<path class="m" d="M144 680.6 C143.2 681.4 140.7 683.3 139.3 685.6 C137.9 687.8 136.3 691.3 135.6 694.2 C134.8 697.1 134.5 700.2 134.8 702.9 C135.1 705.5 136.2 708.7 137.3 710.3 C138.5 711.9 141 712 141.8 712.4"/>
<path class="k" d="M143.7 681.9 C144.8 681.7 148.1 680.6 150.2 681 C152.3 681.4 154.9 682.7 156.3 684.1 C157.8 685.5 158.6 688.6 159.1 689.5" style="stroke-width:3.4"/>
<path class="m" d="M137.2 704.1 C137.5 704.9 137.9 707.9 139 709.1 C140.2 710.2 142.4 711.1 144 710.9 C145.5 710.7 147.6 708.3 148.3 707.8"/>
<path class="k w" d="M139 694.2 L148.9 688 L171.4 697.9 L171.9 709.1 L161.5 715.5 L139 704.4Z"/>
<path class="m" d="M139 694.2 L161.5 704.1 L171.4 698.2"/>
<path class="m" d="M161.5 704.1 L161.5 715.5"/>
<path class="t" d="M161.5 704.1 L167.5 707.2 L171.9 709.1"/>
<path class="t" d="M167.5 707.2 L167.5 712.1"/>
<path class="k" d="M120.7 701 C121.3 702.2 122.4 706.2 124.2 707.8 C126 709.4 130.4 710.2 131.6 710.7" style="stroke-width:3.4"/>
<path class="k w" d="M670 696.5 C672.2 696.8 674 698.1 677 699.3 C680 700.5 684.9 702.4 687.8 703.9 C690.7 705.3 692.8 706.4 694.4 707.9 C696 709.5 697 711.6 697.5 713.3 C698 715 698.2 716.5 697.5 718.4 C696.7 720.2 694.9 721.3 692.9 724.5 C690.9 727.6 687.8 734.5 685.3 737.2 C682.7 739.9 680.6 740.4 677.6 740.8 C674.7 741.1 670.4 739.9 667.4 739.1 C664.5 738.3 661.7 737.9 659.8 736.2 C657.9 734.4 656.6 731.4 656 728.6 C655.4 725.8 655.4 722.6 656 719.4 C656.6 716.2 659.1 712.2 659.6 709.2 C660 706.3 657.9 703.6 658.5 701.6 C659.2 699.6 661.7 698.1 663.6 697.3 C665.5 696.4 667.8 696.2 670 696.5Z"/>
<path class="m" d="M663.6 697.3 C662.8 698 659.1 700.2 658.5 701.6 C658 702.9 659.6 704.9 660.5 705.4 C661.3 705.9 663.1 704.9 663.6 704.8"/>
<path class="k" d="M676.4 699.7 C675.8 701.1 674.3 704.9 673.2 707.9 C672 711 670.1 714.8 669.4 718.1 C668.6 721.4 668.4 724.8 668.5 727.7 C668.6 730.5 670.2 733.4 670 735.3 C669.8 737.2 667.9 738.5 667.4 739.1"/>
<path class="m" d="M680.2 707.9 C679.4 708.8 676.8 710.7 675.3 713 C673.9 715.4 672.3 719 671.5 721.9 C670.8 724.9 670.5 728.1 670.8 730.8 C671.1 733.6 672.1 736.8 673.3 738.5 C674.5 740.1 677.1 740.3 677.9 740.6"/>
<path class="k" d="M679.9 709.2 C681 709.1 684.4 707.9 686.5 708.3 C688.7 708.7 691.4 710 692.9 711.5 C694.4 713 695.2 716.2 695.7 717.1" style="stroke-width:3.4"/>
<path class="m" d="M673.2 732.1 C673.5 733 673.9 736 675.1 737.2 C676.2 738.4 678.6 739.3 680.2 739.1 C681.8 738.9 683.9 736.5 684.6 735.9"/>
<path class="k w" d="M675.1 721.9 L685.3 715.6 L708.4 725.8 L708.9 737.2 L698.2 743.8 L675.1 732.4Z"/>
<path class="m" d="M675.1 721.9 L698.2 732.1 L708.4 726"/>
<path class="m" d="M698.2 732.1 L698.2 743.8"/>
<path class="t" d="M698.2 732.1 L704.3 735.3 L708.9 737.2"/>
<path class="t" d="M704.3 735.3 L704.3 740.4"/>
<path class="k" d="M656.3 728.9 C656.8 730.1 658 734.3 659.8 735.9 C661.7 737.6 666.2 738.4 667.4 738.9" style="stroke-width:3.4"/>
<path class="k w" d="M84.4 394.2 L110.2 407.4 M110.2 407.4 C110.5 407.9 112 409.4 111.8 410.6 C111.5 411.8 109.2 413.9 108.6 414.6 M108.6 414.6 L82.6 401.4"/>
<path class="t" d="M88 396.8 L86 402.3"/>
<path class="t" d="M90.3 398 L88.3 403.5"/>
<path class="t" d="M92.7 399.3 L90.7 404.8"/>
<path class="t" d="M95 400.5 L93 406"/>
<path class="t" d="M97.3 401.7 L95.3 407.2"/>
<path class="t" d="M99.7 402.9 L97.7 408.4"/>
<path class="t" d="M102 404.2 L100 409.7"/>
<path class="t" d="M104.3 405.4 L102.3 410.9"/>
<path class="t" d="M106.7 406.6 L104.7 412.1"/>
<path class="t" d="M109 407.8 L107 413.3"/>
<path class="k w" d="M79 390.8 C80.1 390.2 82 389.4 83.2 389.8 C84.4 390.2 85.8 391.8 86.2 393.2 C86.6 394.6 86.2 396.6 85.6 398 C85 399.4 83.8 401.3 82.6 401.8 C81.4 402.3 79.5 401.8 78.4 401 C77.3 400.2 76.3 398.1 76 396.8 C75.7 395.5 76.1 394.2 76.6 393.2 C77.1 392.2 77.9 391.4 79 390.8Z"/>
<path class="m" d="M79 391.4 C79.4 392 81.3 393.5 81.4 395 C81.5 396.5 79.9 399.5 79.6 400.4"/>
<path class="k w" d="M86.4 660.1 L112.2 673.3 M112.2 673.3 C112.5 673.8 114 675.3 113.8 676.5 C113.5 677.7 111.2 679.8 110.6 680.5 M110.6 680.5 L84.6 667.3"/>
<path class="t" d="M90 662.7 L88 668.2"/>
<path class="t" d="M92.3 663.9 L90.3 669.4"/>
<path class="t" d="M94.7 665.2 L92.7 670.7"/>
<path class="t" d="M97 666.4 L95 671.9"/>
<path class="t" d="M99.3 667.6 L97.3 673.1"/>
<path class="t" d="M101.7 668.8 L99.7 674.3"/>
<path class="t" d="M104 670.1 L102 675.6"/>
<path class="t" d="M106.3 671.3 L104.3 676.8"/>
<path class="t" d="M108.7 672.5 L106.7 678"/>
<path class="t" d="M111 673.7 L109 679.2"/>
<path class="k w" d="M81 656.7 C82.1 656.1 84 655.3 85.2 655.7 C86.4 656.1 87.8 657.7 88.2 659.1 C88.6 660.5 88.2 662.5 87.6 663.9 C87 665.3 85.8 667.2 84.6 667.7 C83.4 668.2 81.5 667.7 80.4 666.9 C79.3 666.1 78.3 664 78 662.7 C77.7 661.4 78.1 660.1 78.6 659.1 C79.1 658.1 79.9 657.3 81 656.7Z"/>
<path class="m" d="M81 657.3 C81.4 657.9 83.3 659.4 83.4 660.9 C83.5 662.4 81.9 665.4 81.6 666.3"/>
</g>
<g id="labels">
<text x="166" y="222.5">25</text><path class="ld" d="M192.5 224.5L217 238"/>
<text x="541" y="184.5">25</text><path class="ld" d="M568 186.5L588.5 197.5"/>
<text x="662" y="135.5">24</text><path class="ld" d="M688 137L705 146"/>
<text x="630" y="166">22</text><path class="ld" d="M656 167.5L672.5 177"/>
<text x="755" y="120.5">23</text><path class="ld" d="M781 121L799 132.5"/>
<text x="365.5" y="410.5">13</text><path class="ld" d="M339 382.5L360 395"/>
<text x="42" y="435.5">21</text><path class="ld" d="M69.5 421L90.5 410"/>
<text x="78" y="470.5">31</text><path class="ld" d="M105 456L122 446"/>
<text x="147" y="564">15</text><path class="ld" d="M173 551L192.5 540.5"/>
<text x="661" y="372.5">4</text><path class="ld" d="M675 374.5L692.5 384"/>
<text x="659.5" y="411">2</text><path class="ld" d="M674 414L691 422.5"/>
<text x="885" y="563">3</text><path class="ld" d="M834 521L882 548"/>
<text x="819" y="598">1</text><path class="ld" d="M787 569.5L815 584.5"/>
<text x="732.5" y="647.5">5</text><path class="ld" d="M710 622.5L727.5 632"/>
<text x="552.5" y="477">11</text><path class="ld" d="M576 480L606 497"/>
<text x="527.5" y="492">10</text><path class="ld" d="M555 494L576 507"/>
<text x="510" y="507">9</text><path class="ld" d="M525 510L551 522.5"/>
<text x="496" y="532.5">11</text><path class="ld" d="M520.5 536L540 548"/>
<text x="471" y="549">12</text><path class="ld" d="M500 549L517 558"/>
<text x="392" y="568">8</text><path class="ld" d="M406 569.5L425 579.5"/>
<text x="404" y="626">9</text><path class="ld" d="M420 626L434 634.5"/>
<text x="615" y="631">6</text><path class="ld" d="M585 604L611 618"/>
<text x="585" y="651">7</text><path class="ld" d="M567.5 631L580 638"/>
<text x="523" y="774">14</text><path class="ld" d="M494 744L517.5 757"/>
<text x="464" y="809">19</text><path class="ld" d="M434 783L456 795"/>
<text x="604" y="698">42</text><path class="ld" d="M629.5 700L654.5 713"/>
<text x="950" y="704.5">41</text><path class="ld" d="M926.4 679.6L947 690"/>
<text x="976" y="818">40</text><path class="ld" d="M951 792L974 804.4"/>
<text x="390" y="867.5">30</text><path class="ld" d="M367.5 842.5L385 854"/>
<text x="141" y="638">21</text><path class="ld" d="M139 639L100 660"/>
<text x="184" y="660">20</text><path class="ld" d="M179 662L155 674.5"/>
<text x="112" y="742">27</text><path class="ld" d="M137 742.5L155 752.5"/>
<text x="80" y="755">26</text><path class="ld" d="M105 756L124 766"/>
<text x="39" y="774">28</text><path class="ld" d="M64 777L89 792"/>
<text x="177.5" y="825">16</text><path class="ld" d="M202.5 826L221 835.5"/>
<text x="177.5" y="849">17</text><path class="ld" d="M202.5 851L227.5 865"/>
<text x="314.5" y="895.5">18</text><path class="ld" d="M291.5 872.5L309 883"/>
<text x="23" y="880.5">27</text><path class="ld" d="M48 882L57 887"/>
<text x="162.5" y="909">29</text><path class="ld" d="M140 884.5L160 896"/>
</g>
</svg>
</body></html>
